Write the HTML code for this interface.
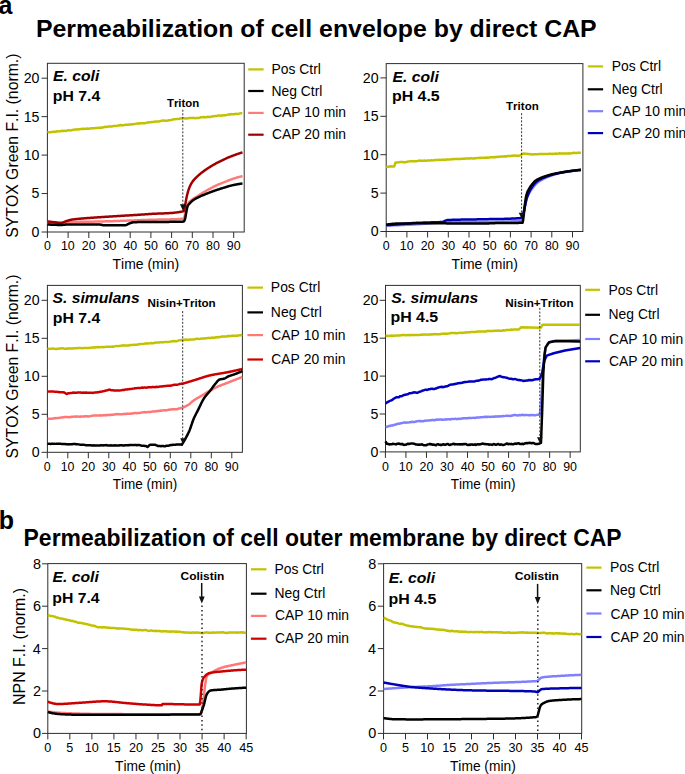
<!DOCTYPE html>
<html><head><meta charset="utf-8"><style>
html,body{margin:0;padding:0;background:#fff;width:685px;height:774px;overflow:hidden}
svg{display:block}
text{font-family:'Liberation Sans', sans-serif;font-kerning:none}
</style></head><body>
<svg width="685" height="774" viewBox="0 0 685 774" style="font-family:'Liberation Sans', sans-serif;font-kerning:none">
<rect width="685" height="774" fill="#fff"/>
<text transform="translate(-1.43,14.20) scale(1.0000,1)" font-size="25" font-weight="bold" font-style="normal" fill="#000">a</text>
<text transform="translate(35.94,36.90) scale(1.0362,1)" font-size="24" font-weight="bold" font-style="normal" fill="#000">Permeabilization of cell envelope by direct CAP</text>
<text transform="translate(-1.25,528.70) scale(1.0000,1)" font-size="25" font-weight="bold" font-style="normal" fill="#000">b</text>
<text transform="translate(23.56,545.60) scale(0.9980,1)" font-size="23.0" font-weight="bold" font-style="normal" fill="#000">Permeabilization of cell outer membrane by direct CAP</text>
<rect x="47.40" y="63.30" width="196.80" height="168.70" fill="none" stroke="#2e2e2e" stroke-width="1"/>
<line x1="41.60" y1="232.00" x2="47.40" y2="232.00" stroke="#2e2e2e" stroke-width="1.0" />
<text transform="translate(31.55,236.94) scale(1.0300,1)" font-size="13.8" font-weight="normal" font-style="normal" fill="#000">0</text>
<line x1="41.60" y1="193.55" x2="47.40" y2="193.55" stroke="#2e2e2e" stroke-width="1.0" />
<text transform="translate(31.59,198.49) scale(1.0300,1)" font-size="13.8" font-weight="normal" font-style="normal" fill="#000">5</text>
<line x1="41.60" y1="155.10" x2="47.40" y2="155.10" stroke="#2e2e2e" stroke-width="1.0" />
<text transform="translate(23.64,160.04) scale(1.0300,1)" font-size="13.8" font-weight="normal" font-style="normal" fill="#000">10</text>
<line x1="41.60" y1="116.65" x2="47.40" y2="116.65" stroke="#2e2e2e" stroke-width="1.0" />
<text transform="translate(23.69,121.59) scale(1.0300,1)" font-size="13.8" font-weight="normal" font-style="normal" fill="#000">15</text>
<line x1="41.60" y1="78.20" x2="47.40" y2="78.20" stroke="#2e2e2e" stroke-width="1.0" />
<text transform="translate(23.64,83.14) scale(1.0300,1)" font-size="13.8" font-weight="normal" font-style="normal" fill="#000">20</text>
<line x1="47.40" y1="232.00" x2="47.40" y2="238.00" stroke="#2e2e2e" stroke-width="1.0" />
<text transform="translate(43.95,250.40) scale(1.0000,1)" font-size="12.4" font-weight="normal" font-style="normal" fill="#000">0</text>
<line x1="68.10" y1="232.00" x2="68.10" y2="238.00" stroke="#2e2e2e" stroke-width="1.0" />
<text transform="translate(60.97,250.40) scale(1.0000,1)" font-size="12.4" font-weight="normal" font-style="normal" fill="#000">10</text>
<line x1="88.80" y1="232.00" x2="88.80" y2="238.00" stroke="#2e2e2e" stroke-width="1.0" />
<text transform="translate(81.83,250.40) scale(1.0000,1)" font-size="12.4" font-weight="normal" font-style="normal" fill="#000">20</text>
<line x1="109.50" y1="232.00" x2="109.50" y2="238.00" stroke="#2e2e2e" stroke-width="1.0" />
<text transform="translate(102.61,250.40) scale(1.0000,1)" font-size="12.4" font-weight="normal" font-style="normal" fill="#000">30</text>
<line x1="130.20" y1="232.00" x2="130.20" y2="238.00" stroke="#2e2e2e" stroke-width="1.0" />
<text transform="translate(123.40,250.40) scale(1.0000,1)" font-size="12.4" font-weight="normal" font-style="normal" fill="#000">40</text>
<line x1="150.90" y1="232.00" x2="150.90" y2="238.00" stroke="#2e2e2e" stroke-width="1.0" />
<text transform="translate(144.00,250.40) scale(1.0000,1)" font-size="12.4" font-weight="normal" font-style="normal" fill="#000">50</text>
<line x1="171.60" y1="232.00" x2="171.60" y2="238.00" stroke="#2e2e2e" stroke-width="1.0" />
<text transform="translate(164.63,250.40) scale(1.0000,1)" font-size="12.4" font-weight="normal" font-style="normal" fill="#000">60</text>
<line x1="192.30" y1="232.00" x2="192.30" y2="238.00" stroke="#2e2e2e" stroke-width="1.0" />
<text transform="translate(185.33,250.40) scale(1.0000,1)" font-size="12.4" font-weight="normal" font-style="normal" fill="#000">70</text>
<line x1="213.00" y1="232.00" x2="213.00" y2="238.00" stroke="#2e2e2e" stroke-width="1.0" />
<text transform="translate(206.08,250.40) scale(1.0000,1)" font-size="12.4" font-weight="normal" font-style="normal" fill="#000">80</text>
<line x1="233.70" y1="232.00" x2="233.70" y2="238.00" stroke="#2e2e2e" stroke-width="1.0" />
<text transform="translate(226.76,250.40) scale(1.0000,1)" font-size="12.4" font-weight="normal" font-style="normal" fill="#000">90</text>
<polyline points="47.40,132.40 48.40,132.12 49.40,132.28 50.40,132.29 51.40,132.01 52.40,131.92 53.40,131.81 54.40,131.81 55.40,131.83 56.40,131.47 57.40,131.18 58.40,131.37 59.40,131.25 60.40,131.30 61.40,130.92 62.40,130.87 63.40,130.94 64.40,130.70 65.40,130.88 66.40,130.93 67.40,130.48 68.40,130.18 69.40,130.21 70.40,130.40 71.40,130.19 72.40,129.95 73.40,129.87 74.40,129.59 75.40,129.48 76.40,129.48 77.40,129.48 78.40,129.31 79.40,129.16 80.40,129.04 81.40,129.04 82.40,128.93 83.40,128.68 84.40,128.91 85.40,128.87 86.40,128.85 87.40,128.57 88.40,128.77 89.40,128.79 90.40,128.39 91.40,128.22 92.40,128.28 93.40,128.27 94.40,128.34 95.40,128.08 96.40,128.10 97.40,127.99 98.40,127.71 99.40,127.64 100.40,127.71 101.40,127.70 102.40,127.48 103.40,127.36 104.41,126.96 105.41,126.78 106.42,126.90 107.43,126.74 108.43,126.48 109.44,126.47 110.45,126.50 111.46,126.46 112.46,126.25 113.47,126.11 114.48,126.01 115.48,126.05 116.49,125.90 117.50,125.70 118.50,125.59 119.51,125.25 120.52,125.01 121.52,125.15 122.53,125.34 123.54,125.21 124.54,124.99 125.55,124.70 126.56,124.66 127.57,124.82 128.57,124.78 129.58,124.59 130.59,124.60 131.59,124.24 132.60,124.13 133.61,124.24 134.61,124.07 135.62,123.87 136.63,123.61 137.63,123.55 138.64,123.68 139.65,123.24 140.66,123.32 141.66,123.34 142.67,123.35 143.68,123.23 144.68,123.16 145.69,122.92 146.70,122.76 147.70,122.55 148.71,122.20 149.72,122.36 150.72,122.25 151.73,121.97 152.74,121.90 153.74,121.81 154.75,121.65 155.76,121.51 156.77,121.47 157.77,121.45 158.78,121.39 159.79,121.24 160.79,120.88 161.80,120.73 162.82,120.56 163.84,120.61 164.86,120.73 165.88,120.72 166.90,120.67 167.92,120.60 168.94,120.23 169.96,120.25 170.98,120.13 172.00,119.72 173.02,119.39 174.04,119.14 175.06,119.32 176.08,119.12 177.10,118.89 178.12,118.95 179.14,118.81 180.16,118.53 181.18,118.37 182.20,118.40 183.24,118.28 184.29,118.24 185.33,118.43 186.37,118.40 187.41,118.30 188.46,118.30 189.50,118.06 190.54,118.08 191.59,118.10 192.63,117.98 193.67,117.85 194.71,118.16 195.76,118.13 196.80,117.95 197.81,117.95 198.82,118.02 199.83,117.61 200.84,117.32 201.86,117.17 202.87,117.32 203.88,117.08 204.89,117.17 205.90,117.16 206.91,117.05 207.92,116.77 208.93,116.94 209.94,116.91 210.96,116.71 211.97,116.39 212.98,116.37 213.99,116.19 215.00,116.12 216.01,115.91 217.02,115.90 218.03,115.56 219.04,115.43 220.06,115.64 221.07,115.68 222.08,115.37 223.09,115.42 224.10,115.13 225.11,115.23 226.12,115.14 227.13,114.88 228.14,114.60 229.16,114.27 230.17,114.46 231.18,114.10 232.19,114.24 233.20,114.35 234.21,114.17 235.22,113.82 236.23,113.92 237.24,113.98 238.26,113.84 239.27,113.62 240.28,113.37 241.29,113.16 242.30,113.10" fill="none" stroke="#c2c200" stroke-width="2.5" stroke-linejoin="round" stroke-linecap="butt"/>
<polyline points="47.40,222.70 47.91,222.73 48.41,222.76 48.92,222.79 49.43,222.81 49.93,222.83 50.44,222.84 50.95,222.86 51.45,222.87 51.96,222.88 52.47,222.89 52.97,222.89 53.48,222.90 53.99,222.90 54.49,222.90 55.00,222.90 55.50,222.90 56.00,222.88 56.50,222.86 57.00,222.84 57.50,222.81 58.00,222.77 58.50,222.73 59.00,222.69 59.50,222.64 60.00,222.59 60.50,222.54 61.00,222.50 61.50,222.45 62.00,222.40 62.50,222.36 63.00,222.32 63.50,222.28 64.00,222.25 64.50,222.22 65.00,222.20 65.50,222.18 66.00,222.17 66.50,222.15 67.00,222.13 67.50,222.12 68.00,222.10 68.50,222.09 69.00,222.08 69.50,222.06 70.00,222.05 70.50,222.04 71.00,222.02 71.50,222.01 72.00,222.00 72.50,221.99 73.00,221.98 73.50,221.97 74.00,221.96 74.50,221.95 75.00,221.93 75.50,221.93 76.00,221.92 76.50,221.91 77.00,221.90 77.50,221.89 78.00,221.88 78.50,221.87 79.00,221.86 79.50,221.85 80.00,221.85 80.50,221.84 81.00,221.83 81.50,221.82 82.00,221.81 82.50,221.81 83.00,221.80 83.50,221.79 84.00,221.78 84.50,221.78 85.00,221.77 85.50,221.76 86.00,221.75 86.50,221.75 87.00,221.74 87.50,221.73 88.00,221.73 88.50,221.72 89.00,221.71 89.50,221.70 90.00,221.69 90.50,221.69 91.00,221.68 91.50,221.67 92.00,221.66 92.50,221.65 93.00,221.65 93.50,221.64 94.00,221.63 94.50,221.62 95.00,221.61 95.50,221.60 96.00,221.59 96.50,221.58 97.00,221.57 97.50,221.56 98.00,221.55 98.50,221.54 99.00,221.52 99.50,221.51 100.00,221.50 100.50,221.49 101.00,221.47 101.50,221.46 102.00,221.45 102.50,221.44 103.00,221.42 103.50,221.41 104.00,221.40 104.50,221.38 105.00,221.37 105.50,221.35 106.00,221.34 106.50,221.32 107.00,221.31 107.50,221.30 108.00,221.28 108.50,221.27 109.00,221.25 109.50,221.24 110.00,221.22 110.50,221.20 111.00,221.19 111.50,221.17 112.00,221.16 112.50,221.14 113.00,221.13 113.50,221.11 114.00,221.09 114.50,221.08 115.00,221.06 115.50,221.04 116.00,221.03 116.50,221.01 117.00,220.99 117.50,220.98 118.00,220.96 118.50,220.94 119.00,220.93 119.50,220.91 120.00,220.89 120.50,220.87 121.00,220.86 121.50,220.84 122.00,220.82 122.50,220.80 123.00,220.78 123.50,220.77 124.00,220.75 124.50,220.73 125.00,220.71 125.50,220.69 126.00,220.68 126.50,220.66 127.00,220.64 127.50,220.62 128.00,220.60 128.50,220.59 129.00,220.57 129.50,220.55 130.00,220.53 130.50,220.51 131.00,220.49 131.50,220.48 132.00,220.46 132.50,220.44 133.00,220.42 133.50,220.40 134.00,220.38 134.50,220.36 135.00,220.35 135.50,220.33 136.00,220.31 136.50,220.29 137.00,220.27 137.50,220.25 138.00,220.23 138.50,220.22 139.00,220.20 139.50,220.18 140.00,220.16 140.50,220.14 141.00,220.12 141.50,220.11 142.00,220.09 142.50,220.07 143.00,220.05 143.50,220.03 144.00,220.01 144.50,220.00 145.00,219.98 145.50,219.96 146.00,219.94 146.50,219.92 147.00,219.91 147.50,219.89 148.00,219.87 148.50,219.85 149.00,219.84 149.50,219.82 150.00,219.80 150.50,219.78 151.00,219.77 151.50,219.75 152.01,219.74 152.51,219.72 153.01,219.71 153.51,219.70 154.01,219.69 154.51,219.67 155.01,219.66 155.52,219.65 156.02,219.64 156.52,219.63 157.02,219.63 157.52,219.62 158.02,219.61 158.53,219.60 159.03,219.59 159.53,219.58 160.03,219.58 160.53,219.57 161.03,219.56 161.53,219.55 162.04,219.55 162.54,219.54 163.04,219.53 163.54,219.52 164.04,219.52 164.54,219.51 165.04,219.50 165.55,219.49 166.05,219.48 166.55,219.47 167.05,219.46 167.55,219.45 168.05,219.44 168.56,219.43 169.06,219.41 169.56,219.40 170.06,219.39 170.56,219.37 171.06,219.36 171.56,219.34 172.07,219.32 172.57,219.31 173.07,219.29 173.57,219.27 174.07,219.25 174.57,219.22 175.07,219.20 175.58,219.18 176.08,219.15 176.58,219.13 177.08,219.10 177.58,219.07 178.08,219.04 178.59,219.01 179.09,218.97 179.59,218.94 180.09,218.90 180.59,218.86 181.09,218.82 181.59,218.78 182.10,218.74 182.60,218.69 183.10,218.65 183.60,218.60 184.14,217.77 184.68,215.77 185.22,213.19 185.76,210.60 186.30,208.60 186.84,207.11 187.38,205.70 187.92,204.42 188.46,203.34 189.00,202.50 189.50,201.89 190.00,201.36 190.50,200.89 191.00,200.47 191.50,200.08 192.00,199.72 192.50,199.36 193.00,199.00 193.51,198.64 194.03,198.29 194.54,197.96 195.05,197.65 195.56,197.34 196.07,197.03 196.59,196.72 197.10,196.40 197.62,196.07 198.15,195.73 198.67,195.40 199.19,195.06 199.72,194.72 200.24,194.38 200.76,194.05 201.28,193.71 201.81,193.38 202.33,193.06 202.85,192.73 203.38,192.41 203.90,192.10 204.42,191.79 204.95,191.49 205.47,191.18 205.99,190.88 206.52,190.59 207.04,190.29 207.56,190.00 208.08,189.71 208.61,189.42 209.13,189.14 209.65,188.86 210.18,188.58 210.70,188.30 211.22,188.02 211.75,187.75 212.27,187.47 212.79,187.20 213.32,186.93 213.84,186.66 214.36,186.40 214.88,186.14 215.41,185.88 215.93,185.63 216.45,185.38 216.98,185.14 217.50,184.90 218.02,184.67 218.53,184.45 219.05,184.24 219.56,184.03 220.08,183.82 220.59,183.61 221.11,183.41 221.62,183.21 222.14,183.01 222.65,182.81 223.17,182.61 223.68,182.40 224.20,182.20 224.72,181.99 225.25,181.78 225.77,181.56 226.29,181.34 226.82,181.13 227.34,180.91 227.86,180.69 228.38,180.48 228.91,180.28 229.43,180.07 229.95,179.87 230.48,179.68 231.00,179.50 231.50,179.33 232.00,179.16 232.50,178.99 233.00,178.83 233.50,178.66 234.00,178.50 234.50,178.34 235.00,178.18 235.50,178.02 236.00,177.87 236.50,177.72 237.00,177.57 237.50,177.42 238.00,177.27 238.50,177.13 239.00,176.99 239.50,176.85 240.00,176.72 240.50,176.59 241.00,176.46 241.50,176.34 242.00,176.22 242.50,176.10" fill="none" stroke="#ff7b7b" stroke-width="2.5" stroke-linejoin="round" stroke-linecap="butt"/>
<polyline points="47.40,221.40 47.91,221.46 48.41,221.52 48.92,221.58 49.43,221.65 49.93,221.71 50.44,221.77 50.95,221.83 51.45,221.89 51.96,221.95 52.47,222.01 52.97,222.07 53.48,222.12 53.99,222.18 54.49,222.24 55.00,222.30 55.52,222.36 56.05,222.44 56.58,222.51 57.10,222.59 57.62,222.67 58.15,222.74 58.67,222.81 59.20,222.87 59.72,222.92 60.25,222.96 60.77,222.99 61.30,223.00 61.82,222.95 62.34,222.83 62.87,222.64 63.39,222.41 63.91,222.15 64.43,221.89 64.96,221.63 65.48,221.39 66.00,221.20 66.50,221.04 67.00,220.88 67.50,220.73 68.00,220.58 68.50,220.43 69.00,220.28 69.50,220.15 70.00,220.02 70.50,219.90 71.00,219.79 71.50,219.69 72.00,219.60 72.50,219.52 73.00,219.45 73.50,219.38 74.00,219.31 74.50,219.25 75.00,219.19 75.50,219.14 76.00,219.08 76.50,219.03 77.00,218.98 77.50,218.93 78.00,218.88 78.50,218.84 79.00,218.79 79.50,218.75 80.00,218.70 80.50,218.65 81.00,218.61 81.50,218.56 82.00,218.52 82.50,218.48 83.00,218.43 83.50,218.39 84.00,218.35 84.50,218.31 85.00,218.27 85.50,218.23 86.00,218.19 86.50,218.15 87.00,218.11 87.50,218.08 88.00,218.04 88.50,218.00 89.00,217.97 89.50,217.93 90.00,217.89 90.50,217.86 91.00,217.82 91.50,217.79 92.00,217.75 92.50,217.72 93.00,217.68 93.50,217.65 94.00,217.61 94.50,217.58 95.00,217.54 95.50,217.51 96.00,217.48 96.50,217.44 97.00,217.41 97.50,217.37 98.00,217.34 98.50,217.30 99.00,217.27 99.50,217.23 100.00,217.20 100.50,217.17 101.00,217.13 101.50,217.10 102.00,217.06 102.50,217.03 103.00,216.99 103.50,216.96 104.00,216.93 104.50,216.89 105.00,216.86 105.50,216.83 106.00,216.79 106.50,216.76 107.00,216.73 107.50,216.70 108.00,216.66 108.50,216.63 109.00,216.60 109.50,216.57 110.00,216.54 110.50,216.51 111.00,216.47 111.50,216.44 112.00,216.41 112.50,216.38 113.00,216.35 113.50,216.32 114.00,216.29 114.50,216.26 115.00,216.23 115.50,216.19 116.00,216.16 116.50,216.13 117.00,216.10 117.50,216.07 118.00,216.04 118.50,216.01 119.00,215.98 119.50,215.95 120.00,215.92 120.50,215.89 121.00,215.86 121.50,215.83 122.00,215.80 122.50,215.77 123.00,215.74 123.50,215.71 124.00,215.68 124.50,215.65 125.00,215.62 125.50,215.59 126.00,215.56 126.50,215.53 127.00,215.50 127.50,215.47 128.00,215.44 128.50,215.41 129.00,215.38 129.50,215.35 130.00,215.32 130.50,215.29 131.00,215.26 131.50,215.23 132.00,215.19 132.50,215.16 133.00,215.13 133.50,215.10 134.00,215.07 134.50,215.04 135.00,215.01 135.50,214.98 136.00,214.94 136.50,214.91 137.00,214.88 137.50,214.85 138.00,214.82 138.50,214.79 139.00,214.75 139.50,214.72 140.00,214.69 140.50,214.66 141.00,214.62 141.50,214.59 142.00,214.56 142.50,214.52 143.00,214.49 143.50,214.46 144.00,214.42 144.50,214.39 145.00,214.35 145.50,214.32 146.00,214.28 146.50,214.25 147.00,214.21 147.50,214.18 148.00,214.14 148.50,214.11 149.00,214.07 149.50,214.04 150.00,214.00 150.50,213.96 151.00,213.93 151.50,213.90 152.01,213.87 152.51,213.84 153.01,213.81 153.51,213.78 154.01,213.76 154.51,213.74 155.01,213.71 155.52,213.69 156.02,213.67 156.52,213.65 157.02,213.63 157.52,213.61 158.02,213.59 158.53,213.58 159.03,213.56 159.53,213.54 160.03,213.52 160.53,213.51 161.03,213.49 161.53,213.47 162.04,213.46 162.54,213.44 163.04,213.42 163.54,213.40 164.04,213.38 164.54,213.36 165.04,213.34 165.55,213.32 166.05,213.30 166.55,213.27 167.05,213.25 167.55,213.22 168.05,213.20 168.56,213.17 169.06,213.14 169.56,213.11 170.06,213.07 170.56,213.04 171.06,213.00 171.56,212.96 172.07,212.92 172.57,212.88 173.07,212.83 173.57,212.78 174.07,212.73 174.57,212.68 175.07,212.63 175.58,212.57 176.08,212.51 176.58,212.44 177.08,212.38 177.58,212.31 178.08,212.24 178.59,212.16 179.09,212.08 179.59,212.00 180.09,211.91 180.59,211.82 181.09,211.73 181.59,211.63 182.10,211.53 182.60,211.42 183.10,211.31 183.60,211.20 184.30,209.34 185.00,206.00 185.50,203.34 186.00,200.50 186.50,197.88 187.00,195.50 187.50,193.46 188.00,191.62 188.50,190.00 189.10,188.31 189.70,186.81 190.30,185.50 190.84,184.45 191.38,183.47 191.92,182.57 192.46,181.75 193.00,181.00 193.51,180.34 194.03,179.73 194.54,179.15 195.05,178.60 195.56,178.08 196.07,177.58 196.59,177.08 197.10,176.60 197.62,176.11 198.15,175.64 198.67,175.17 199.19,174.72 199.72,174.27 200.24,173.84 200.76,173.41 201.28,172.99 201.81,172.58 202.33,172.18 202.85,171.78 203.38,171.39 203.90,171.00 204.42,170.62 204.95,170.25 205.47,169.88 205.99,169.52 206.52,169.17 207.04,168.82 207.56,168.48 208.08,168.14 208.61,167.81 209.13,167.47 209.65,167.15 210.18,166.82 210.70,166.50 211.22,166.18 211.75,165.86 212.27,165.55 212.79,165.24 213.32,164.93 213.84,164.63 214.36,164.33 214.88,164.03 215.41,163.74 215.93,163.45 216.45,163.16 216.98,162.88 217.50,162.60 218.02,162.33 218.53,162.06 219.05,161.79 219.56,161.53 220.08,161.27 220.59,161.02 221.11,160.76 221.62,160.51 222.14,160.26 222.65,160.02 223.17,159.78 223.68,159.54 224.20,159.30 224.72,159.06 225.25,158.83 225.77,158.59 226.29,158.36 226.82,158.13 227.34,157.90 227.86,157.68 228.38,157.46 228.91,157.24 229.43,157.02 229.95,156.81 230.48,156.60 231.00,156.40 231.50,156.21 232.00,156.02 232.50,155.83 233.00,155.64 233.50,155.45 234.00,155.26 234.50,155.08 235.00,154.90 235.50,154.72 236.00,154.54 236.50,154.36 237.00,154.19 237.50,154.01 238.00,153.84 238.50,153.67 239.00,153.51 239.50,153.34 240.00,153.18 240.50,153.02 241.00,152.86 241.50,152.70 242.00,152.55 242.50,152.40" fill="none" stroke="#a00000" stroke-width="2.5" stroke-linejoin="round" stroke-linecap="butt"/>
<polyline points="47.40,224.50 47.91,224.52 48.41,224.54 48.92,224.56 49.43,224.59 49.93,224.61 50.44,224.63 50.95,224.65 51.45,224.67 51.96,224.69 52.47,224.71 52.97,224.73 53.48,224.74 53.99,224.76 54.49,224.78 55.00,224.80 55.50,224.82 56.00,224.84 56.50,224.86 57.00,224.88 57.50,224.91 58.00,224.93 58.50,224.95 59.00,224.96 59.50,224.98 60.00,224.99 60.50,225.00 61.00,225.00 61.50,224.99 62.00,224.97 62.50,224.93 63.00,224.88 63.50,224.83 64.00,224.76 64.50,224.70 65.00,224.64 65.50,224.57 66.00,224.52 66.50,224.47 67.00,224.43 67.50,224.41 68.00,224.40 68.50,224.40 69.00,224.40 69.50,224.40 70.00,224.40 70.50,224.40 71.00,224.40 71.50,224.40 72.00,224.40 72.50,224.40 73.00,224.40 73.50,224.40 74.00,224.40 74.50,224.40 75.00,224.41 75.50,224.41 76.00,224.41 76.50,224.41 77.00,224.41 77.50,224.41 78.00,224.41 78.50,224.41 79.00,224.42 79.50,224.42 80.00,224.42 80.50,224.42 81.00,224.42 81.50,224.42 82.00,224.43 82.50,224.43 83.00,224.43 83.50,224.43 84.00,224.44 84.50,224.44 85.00,224.44 85.50,224.45 86.00,224.45 86.50,224.45 87.00,224.45 87.50,224.46 88.00,224.46 88.50,224.47 89.00,224.47 89.50,224.47 90.00,224.48 90.50,224.48 91.00,224.49 91.50,224.49 92.00,224.50 92.50,224.50 93.00,224.51 93.50,224.51 94.00,224.52 94.50,224.52 95.00,224.53 95.50,224.54 96.00,224.54 96.50,224.55 97.00,224.56 97.50,224.56 98.00,224.57 98.50,224.58 99.00,224.58 99.50,224.59 100.00,224.60 100.50,224.64 101.00,224.72 101.50,224.83 102.00,224.96 102.50,225.08 103.00,225.19 103.50,225.27 104.00,225.30 104.50,225.30 105.00,225.30 105.50,225.30 106.00,225.30 106.50,225.30 107.00,225.30 107.50,225.30 108.00,225.30 108.50,225.30 109.00,225.30 109.50,225.30 110.00,225.30 110.50,225.30 111.00,225.30 111.50,225.30 112.00,225.30 112.50,225.30 113.00,225.30 113.50,225.30 114.00,225.30 114.50,225.30 115.00,225.30 115.50,225.30 116.00,225.30 116.50,225.30 117.00,225.30 117.50,225.30 118.00,225.30 118.50,225.30 119.00,225.30 119.50,225.30 120.00,225.30 120.50,225.30 121.00,225.30 121.50,225.30 122.00,225.30 122.50,225.30 123.00,225.30 123.50,225.30 124.00,225.30 124.50,225.30 125.00,225.30 125.50,225.26 126.00,225.13 126.50,224.94 127.00,224.71 127.50,224.44 128.00,224.16 128.50,223.88 129.00,223.62 129.50,223.38 130.00,223.20 130.50,223.04 131.00,222.87 131.50,222.71 132.00,222.56 132.50,222.42 133.00,222.31 133.50,222.24 134.00,222.20 134.50,222.19 135.00,222.17 135.50,222.16 136.00,222.15 136.50,222.14 137.00,222.13 137.50,222.12 138.00,222.11 138.50,222.10 139.00,222.10 139.50,222.09 140.00,222.09 140.50,222.08 141.00,222.08 141.50,222.07 142.00,222.07 142.50,222.06 143.00,222.06 143.50,222.05 144.00,222.05 144.50,222.05 145.00,222.04 145.50,222.04 146.00,222.04 146.50,222.03 147.00,222.03 147.50,222.03 148.00,222.02 148.50,222.02 149.00,222.01 149.50,222.01 150.00,222.00 150.50,221.99 151.00,221.99 151.50,221.98 152.01,221.98 152.51,221.97 153.01,221.97 153.51,221.96 154.01,221.96 154.51,221.96 155.01,221.95 155.52,221.95 156.02,221.95 156.52,221.94 157.02,221.94 157.52,221.94 158.02,221.94 158.53,221.93 159.03,221.93 159.53,221.93 160.03,221.93 160.53,221.92 161.03,221.92 161.53,221.92 162.04,221.92 162.54,221.91 163.04,221.91 163.54,221.91 164.04,221.91 164.54,221.90 165.04,221.90 165.55,221.90 166.05,221.90 166.55,221.89 167.05,221.89 167.55,221.89 168.05,221.88 168.56,221.88 169.06,221.88 169.56,221.87 170.06,221.87 170.56,221.86 171.06,221.86 171.56,221.85 172.07,221.85 172.57,221.84 173.07,221.83 173.57,221.83 174.07,221.82 174.57,221.81 175.07,221.81 175.58,221.80 176.08,221.79 176.58,221.78 177.08,221.77 177.58,221.76 178.08,221.75 178.59,221.74 179.09,221.73 179.59,221.72 180.09,221.70 180.59,221.69 181.09,221.68 181.59,221.66 182.10,221.65 182.60,221.63 183.10,221.62 183.60,221.60 184.25,220.94 184.90,219.50 185.43,217.28 185.97,214.04 186.50,211.00 187.05,208.24 187.60,206.20 188.12,205.23 188.65,204.53 189.17,203.95 189.70,203.40 190.25,202.80 190.80,202.23 191.35,201.69 191.90,201.19 192.45,200.72 193.00,200.30 193.51,199.94 194.03,199.61 194.54,199.29 195.05,198.99 195.56,198.71 196.07,198.43 196.59,198.17 197.10,197.90 197.62,197.63 198.15,197.37 198.67,197.12 199.19,196.87 199.72,196.63 200.24,196.39 200.76,196.15 201.28,195.92 201.81,195.69 202.33,195.47 202.85,195.24 203.38,195.02 203.90,194.80 204.42,194.58 204.95,194.36 205.47,194.14 205.99,193.93 206.52,193.72 207.04,193.51 207.56,193.30 208.08,193.10 208.61,192.90 209.13,192.69 209.65,192.49 210.18,192.30 210.70,192.10 211.22,191.91 211.75,191.71 212.27,191.52 212.79,191.33 213.32,191.14 213.84,190.96 214.36,190.77 214.88,190.59 215.41,190.41 215.93,190.23 216.45,190.05 216.98,189.87 217.50,189.70 218.02,189.53 218.53,189.36 219.05,189.20 219.56,189.03 220.08,188.87 220.59,188.71 221.11,188.55 221.62,188.39 222.14,188.23 222.65,188.07 223.17,187.91 223.68,187.76 224.20,187.60 224.72,187.44 225.25,187.28 225.77,187.11 226.29,186.95 226.82,186.78 227.34,186.62 227.86,186.46 228.38,186.30 228.91,186.15 229.43,186.00 229.95,185.86 230.48,185.72 231.00,185.60 231.50,185.49 232.00,185.37 232.50,185.26 233.00,185.15 233.50,185.04 234.00,184.93 234.50,184.83 235.00,184.73 235.50,184.62 236.00,184.53 236.50,184.43 237.00,184.33 237.50,184.24 238.00,184.15 238.50,184.07 239.00,183.99 239.50,183.91 240.00,183.83 240.50,183.76 241.00,183.69 241.50,183.62 242.00,183.56 242.50,183.50" fill="none" stroke="#000000" stroke-width="2.5" stroke-linejoin="round" stroke-linecap="butt"/>
<text transform="translate(17.90,237.82) rotate(-90) scale(0.9882,1)" font-size="16" font-weight="normal" fill="#000">SYTOX Green F.I. (norm.)</text>
<text transform="translate(112.59,269.30) scale(0.9954,1)" font-size="14" font-weight="normal" font-style="normal" fill="#000">Time (min)</text>
<text transform="translate(52.92,81.00) scale(1.0165,1)" font-size="15.5" font-weight="bold" font-style="italic" fill="#000">E. coli</text>
<text transform="translate(52.86,100.90) scale(1.0196,1)" font-size="15.5" font-weight="bold" font-style="normal" fill="#000">pH 7.4</text>
<text transform="translate(166.97,106.60) scale(0.9927,1)" font-size="11.5" font-weight="bold" font-style="normal" fill="#000">Triton</text>
<line x1="182.80" y1="109.70" x2="182.80" y2="204.50" stroke="#333" stroke-width="1.0" stroke-dasharray="2,1.6"/>
<path d="M180.00,204.20 L186.00,204.20 L183.00,211.00 Z" fill="#111"/>
<line x1="248.20" y1="69.40" x2="263.60" y2="69.40" stroke="#c2c200" stroke-width="2.2" />
<line x1="248.20" y1="91.00" x2="263.60" y2="91.00" stroke="#000000" stroke-width="2.2" />
<line x1="248.20" y1="112.90" x2="263.60" y2="112.90" stroke="#ff7b7b" stroke-width="2.2" />
<line x1="248.20" y1="134.70" x2="263.60" y2="134.70" stroke="#a00000" stroke-width="2.2" />
<text transform="translate(271.46,73.80) scale(1.0081,1)" font-size="13.8" font-weight="normal" font-style="normal" fill="#000">Pos Ctrl</text>
<text transform="translate(271.46,96.00) scale(1.0081,1)" font-size="13.8" font-weight="normal" font-style="normal" fill="#000">Neg Ctrl</text>
<text transform="translate(271.89,117.20) scale(1.0081,1)" font-size="13.8" font-weight="normal" font-style="normal" fill="#000">CAP 10 min</text>
<text transform="translate(271.89,139.00) scale(1.0081,1)" font-size="13.8" font-weight="normal" font-style="normal" fill="#000">CAP 20 min</text>
<rect x="386.20" y="63.60" width="196.70" height="167.90" fill="none" stroke="#2e2e2e" stroke-width="1"/>
<line x1="380.40" y1="231.50" x2="386.20" y2="231.50" stroke="#2e2e2e" stroke-width="1.0" />
<text transform="translate(370.75,236.44) scale(1.0300,1)" font-size="13.8" font-weight="normal" font-style="normal" fill="#000">0</text>
<line x1="380.40" y1="193.10" x2="386.20" y2="193.10" stroke="#2e2e2e" stroke-width="1.0" />
<text transform="translate(370.79,198.04) scale(1.0300,1)" font-size="13.8" font-weight="normal" font-style="normal" fill="#000">5</text>
<line x1="380.40" y1="154.70" x2="386.20" y2="154.70" stroke="#2e2e2e" stroke-width="1.0" />
<text transform="translate(362.84,159.64) scale(1.0300,1)" font-size="13.8" font-weight="normal" font-style="normal" fill="#000">10</text>
<line x1="380.40" y1="116.30" x2="386.20" y2="116.30" stroke="#2e2e2e" stroke-width="1.0" />
<text transform="translate(362.89,121.24) scale(1.0300,1)" font-size="13.8" font-weight="normal" font-style="normal" fill="#000">15</text>
<line x1="380.40" y1="77.90" x2="386.20" y2="77.90" stroke="#2e2e2e" stroke-width="1.0" />
<text transform="translate(362.84,82.84) scale(1.0300,1)" font-size="13.8" font-weight="normal" font-style="normal" fill="#000">20</text>
<line x1="386.20" y1="231.50" x2="386.20" y2="237.50" stroke="#2e2e2e" stroke-width="1.0" />
<text transform="translate(382.75,250.40) scale(1.0000,1)" font-size="12.4" font-weight="normal" font-style="normal" fill="#000">0</text>
<line x1="406.90" y1="231.50" x2="406.90" y2="237.50" stroke="#2e2e2e" stroke-width="1.0" />
<text transform="translate(399.77,250.40) scale(1.0000,1)" font-size="12.4" font-weight="normal" font-style="normal" fill="#000">10</text>
<line x1="427.60" y1="231.50" x2="427.60" y2="237.50" stroke="#2e2e2e" stroke-width="1.0" />
<text transform="translate(420.63,250.40) scale(1.0000,1)" font-size="12.4" font-weight="normal" font-style="normal" fill="#000">20</text>
<line x1="448.30" y1="231.50" x2="448.30" y2="237.50" stroke="#2e2e2e" stroke-width="1.0" />
<text transform="translate(441.41,250.40) scale(1.0000,1)" font-size="12.4" font-weight="normal" font-style="normal" fill="#000">30</text>
<line x1="469.00" y1="231.50" x2="469.00" y2="237.50" stroke="#2e2e2e" stroke-width="1.0" />
<text transform="translate(462.20,250.40) scale(1.0000,1)" font-size="12.4" font-weight="normal" font-style="normal" fill="#000">40</text>
<line x1="489.70" y1="231.50" x2="489.70" y2="237.50" stroke="#2e2e2e" stroke-width="1.0" />
<text transform="translate(482.80,250.40) scale(1.0000,1)" font-size="12.4" font-weight="normal" font-style="normal" fill="#000">50</text>
<line x1="510.40" y1="231.50" x2="510.40" y2="237.50" stroke="#2e2e2e" stroke-width="1.0" />
<text transform="translate(503.43,250.40) scale(1.0000,1)" font-size="12.4" font-weight="normal" font-style="normal" fill="#000">60</text>
<line x1="531.10" y1="231.50" x2="531.10" y2="237.50" stroke="#2e2e2e" stroke-width="1.0" />
<text transform="translate(524.13,250.40) scale(1.0000,1)" font-size="12.4" font-weight="normal" font-style="normal" fill="#000">70</text>
<line x1="551.80" y1="231.50" x2="551.80" y2="237.50" stroke="#2e2e2e" stroke-width="1.0" />
<text transform="translate(544.88,250.40) scale(1.0000,1)" font-size="12.4" font-weight="normal" font-style="normal" fill="#000">80</text>
<line x1="572.50" y1="231.50" x2="572.50" y2="237.50" stroke="#2e2e2e" stroke-width="1.0" />
<text transform="translate(565.56,250.40) scale(1.0000,1)" font-size="12.4" font-weight="normal" font-style="normal" fill="#000">90</text>
<polyline points="386.20,166.70 387.33,166.83 388.46,166.87 389.59,166.52 390.71,166.30 391.84,166.45 392.97,166.47 394.10,166.44 395.60,162.51 396.65,162.47 397.71,162.42 398.76,162.36 399.82,162.12 400.87,162.05 401.93,161.97 402.98,162.02 404.04,162.14 405.09,162.16 406.15,161.98 407.20,161.80 408.21,161.60 409.22,161.36 410.23,161.19 411.23,161.24 412.24,161.18 413.25,161.14 414.26,161.30 415.27,161.22 416.28,161.16 417.29,160.97 418.30,160.75 419.30,160.71 420.31,160.58 421.32,160.63 422.33,160.83 423.34,160.79 424.35,160.54 425.36,160.65 426.37,160.66 427.37,160.61 428.38,160.62 429.39,160.54 430.40,160.48 431.41,160.26 432.42,160.36 433.43,160.40 434.43,160.08 435.44,160.10 436.45,160.08 437.46,159.95 438.47,159.88 439.48,159.80 440.49,159.91 441.50,159.79 442.50,159.83 443.51,159.64 444.52,159.72 445.53,159.76 446.54,159.58 447.55,159.50 448.56,159.58 449.57,159.52 450.57,159.38 451.58,159.16 452.59,159.06 453.60,159.13 454.61,158.94 455.62,159.10 456.63,158.93 457.64,159.06 458.66,158.89 459.67,159.02 460.68,158.98 461.69,158.86 462.70,158.78 463.71,158.76 464.72,158.71 465.73,158.55 466.74,158.40 467.76,158.41 468.77,158.56 469.78,158.52 470.79,158.25 471.80,158.37 472.81,158.39 473.82,158.45 474.83,158.19 475.84,158.23 476.86,157.97 477.87,158.03 478.88,157.90 479.89,157.78 480.90,157.95 481.91,157.73 482.92,157.74 483.93,157.87 484.94,157.68 485.96,157.54 486.97,157.70 487.98,157.60 488.99,157.64 490.00,157.37 491.00,157.30 492.01,157.15 493.01,157.23 494.01,157.02 495.02,157.21 496.02,156.93 497.02,157.01 498.03,156.75 499.03,156.66 500.03,156.80 501.04,156.59 502.04,156.45 503.04,156.54 504.05,156.44 505.05,156.22 506.05,156.44 507.06,156.21 508.06,155.99 509.06,155.96 510.07,156.02 511.07,156.08 512.07,155.83 513.08,155.75 514.08,155.55 515.08,155.57 516.09,155.68 517.09,155.70 518.09,155.76 519.10,155.70 520.10,155.40 523.40,153.50 533.00,154.40 533.00,154.40 534.02,154.26 535.04,154.29 536.06,154.22 537.08,154.26 538.10,154.28 539.11,154.05 540.13,153.88 541.15,154.09 542.17,153.98 543.19,153.88 544.21,154.12 545.23,154.04 546.25,154.12 547.27,154.01 548.29,154.00 549.31,153.78 550.33,153.83 551.34,153.94 552.36,153.85 553.38,153.88 554.40,153.85 555.42,153.57 556.44,153.67 557.46,153.65 558.48,153.51 559.50,153.31 560.52,153.50 561.54,153.45 562.56,153.50 563.57,153.58 564.59,153.55 565.61,153.60 566.63,153.41 567.65,153.44 568.67,153.31 569.69,153.41 570.71,153.43 571.73,153.12 572.75,152.94 573.77,152.84 574.79,153.07 575.80,152.99 576.82,153.00 577.84,152.86 578.86,152.84 579.88,152.77 580.90,152.80" fill="none" stroke="#c2c200" stroke-width="2.5" stroke-linejoin="round" stroke-linecap="butt"/>
<polyline points="386.20,225.60 386.71,225.59 387.21,225.57 387.72,225.56 388.22,225.54 388.73,225.52 389.23,225.51 389.74,225.49 390.24,225.48 390.75,225.46 391.25,225.44 391.76,225.43 392.26,225.41 392.77,225.39 393.27,225.37 393.78,225.35 394.28,225.34 394.79,225.32 395.29,225.30 395.80,225.28 396.31,225.26 396.81,225.24 397.32,225.22 397.82,225.20 398.33,225.18 398.83,225.16 399.34,225.14 399.84,225.12 400.35,225.09 400.85,225.07 401.36,225.05 401.86,225.03 402.37,225.01 402.87,224.99 403.38,224.96 403.88,224.94 404.39,224.92 404.89,224.89 405.40,224.87 405.91,224.85 406.41,224.82 406.92,224.80 407.42,224.78 407.93,224.75 408.43,224.73 408.94,224.70 409.44,224.68 409.95,224.65 410.45,224.63 410.96,224.60 411.46,224.58 411.97,224.55 412.47,224.53 412.98,224.50 413.48,224.48 413.99,224.45 414.49,224.43 415.00,224.40 415.50,224.37 416.00,224.35 416.50,224.32 417.00,224.29 417.50,224.26 418.00,224.23 418.50,224.19 419.00,224.16 419.50,224.13 420.00,224.09 420.50,224.06 421.00,224.02 421.50,223.98 422.00,223.94 422.50,223.91 423.00,223.87 423.50,223.83 424.00,223.79 424.50,223.75 425.00,223.71 425.50,223.67 426.00,223.63 426.50,223.59 427.00,223.55 427.50,223.51 428.00,223.47 428.50,223.43 429.00,223.39 429.50,223.35 430.00,223.31 430.50,223.27 431.00,223.23 431.50,223.19 432.00,223.15 432.50,223.12 433.00,223.08 433.50,223.04 434.00,223.00 434.50,222.97 435.00,222.93 435.50,222.90 436.00,222.86 436.50,222.83 437.00,222.80 437.50,222.77 438.00,222.74 438.50,222.71 439.00,222.68 439.50,222.65 440.00,222.63 440.50,222.60 441.00,222.58 441.50,222.56 442.00,222.54 442.50,222.52 443.00,222.50 443.50,222.48 444.00,222.47 444.50,222.45 445.00,222.43 445.50,222.42 446.00,222.40 446.50,222.39 447.00,222.38 447.50,222.36 448.00,222.35 448.50,222.34 449.00,222.32 449.50,222.31 450.00,222.30 450.50,222.29 451.00,222.27 451.50,222.26 452.00,222.25 452.50,222.24 453.00,222.23 453.50,222.22 454.00,222.21 454.50,222.20 455.00,222.19 455.50,222.19 456.00,222.18 456.50,222.17 457.00,222.16 457.50,222.15 458.00,222.15 458.50,222.14 459.00,222.13 459.50,222.12 460.00,222.12 460.50,222.11 461.00,222.11 461.50,222.10 462.00,222.09 462.50,222.09 463.00,222.08 463.50,222.08 464.00,222.07 464.50,222.07 465.00,222.06 465.50,222.06 466.00,222.05 466.50,222.05 467.00,222.04 467.50,222.04 468.00,222.04 468.50,222.03 469.00,222.03 469.50,222.02 470.00,222.02 470.50,222.02 471.00,222.01 471.50,222.01 472.00,222.01 472.50,222.00 473.00,222.00 473.50,222.00 474.00,221.99 474.50,221.99 475.00,221.99 475.50,221.98 476.00,221.98 476.50,221.98 477.00,221.97 477.50,221.97 478.00,221.97 478.50,221.96 479.00,221.96 479.50,221.96 480.00,221.95 480.50,221.95 481.00,221.95 481.50,221.94 482.00,221.94 482.50,221.93 483.00,221.93 483.50,221.93 484.00,221.92 484.50,221.92 485.00,221.91 485.50,221.91 486.00,221.91 486.50,221.90 487.00,221.90 487.50,221.89 488.00,221.89 488.50,221.88 489.00,221.88 489.50,221.87 490.00,221.86 490.50,221.86 491.00,221.85 491.50,221.85 492.00,221.84 492.50,221.83 493.00,221.83 493.50,221.82 494.00,221.81 494.50,221.80 495.00,221.80 495.50,221.79 496.00,221.78 496.50,221.77 497.00,221.76 497.50,221.75 498.00,221.74 498.50,221.73 499.00,221.72 499.50,221.71 500.00,221.70 500.50,221.69 501.00,221.68 501.50,221.67 502.00,221.66 502.50,221.65 503.00,221.63 503.50,221.62 504.00,221.61 504.50,221.59 505.00,221.58 505.50,221.57 506.00,221.55 506.50,221.54 507.00,221.52 507.50,221.50 508.00,221.49 508.50,221.47 509.00,221.45 509.50,221.44 510.00,221.42 510.50,221.40 511.00,221.38 511.50,221.36 512.00,221.34 512.50,221.32 513.00,221.30 513.50,221.28 514.00,221.26 514.50,221.24 515.00,221.21 515.50,221.19 516.00,221.17 516.50,221.14 517.00,221.12 517.50,221.09 518.00,221.07 518.50,221.04 519.00,221.01 519.50,220.99 520.00,220.96 520.50,220.93 521.00,220.90 521.50,220.46 522.00,219.35 522.50,217.76 523.00,215.91 523.50,214.00 524.00,211.61 524.50,208.68 525.00,206.00 525.50,203.72 526.00,201.57 526.50,199.63 527.00,198.00 527.50,196.65 528.00,195.45 528.50,194.38 529.00,193.40 529.50,192.50 530.00,191.66 530.50,190.87 531.00,190.14 531.50,189.44 532.00,188.78 532.50,188.13 533.00,187.50 533.50,186.87 534.00,186.24 534.50,185.63 535.00,185.03 535.50,184.46 536.00,183.93 536.50,183.44 537.00,183.00 537.51,182.58 538.03,182.19 538.54,181.81 539.06,181.45 539.57,181.10 540.09,180.77 540.60,180.45 541.11,180.15 541.63,179.85 542.14,179.57 542.66,179.29 543.17,179.02 543.69,178.76 544.20,178.50 544.71,178.25 545.21,178.01 545.72,177.77 546.23,177.54 546.73,177.32 547.24,177.10 547.74,176.89 548.25,176.68 548.76,176.48 549.26,176.28 549.77,176.09 550.27,175.90 550.78,175.72 551.29,175.54 551.79,175.37 552.30,175.20 552.80,175.04 553.30,174.88 553.80,174.72 554.30,174.57 554.80,174.42 555.30,174.27 555.80,174.13 556.30,173.99 556.80,173.85 557.30,173.72 557.80,173.59 558.30,173.46 558.80,173.34 559.30,173.22 559.80,173.11 560.30,173.00 560.80,172.89 561.30,172.79 561.80,172.69 562.30,172.60 562.80,172.50 563.30,172.41 563.80,172.32 564.30,172.24 564.80,172.15 565.30,172.07 565.80,171.99 566.30,171.91 566.80,171.83 567.30,171.75 567.80,171.67 568.30,171.60 568.80,171.53 569.31,171.45 569.81,171.38 570.32,171.30 570.82,171.23 571.32,171.16 571.83,171.09 572.33,171.02 572.84,170.95 573.34,170.88 573.84,170.82 574.35,170.75 574.85,170.69 575.36,170.62 575.86,170.56 576.36,170.50 576.87,170.44 577.37,170.38 577.88,170.32 578.38,170.26 578.88,170.21 579.39,170.15 579.89,170.10 580.40,170.05 580.90,170.00" fill="none" stroke="#8080ff" stroke-width="2.5" stroke-linejoin="round" stroke-linecap="butt"/>
<polyline points="386.20,225.20 386.71,225.17 387.22,225.13 387.73,225.10 388.24,225.06 388.76,225.03 389.27,224.99 389.78,224.96 390.29,224.92 390.80,224.89 391.31,224.85 391.82,224.81 392.33,224.78 392.84,224.74 393.36,224.70 393.87,224.67 394.38,224.63 394.89,224.59 395.40,224.55 395.91,224.51 396.42,224.48 396.93,224.44 397.44,224.40 397.96,224.36 398.47,224.32 398.98,224.28 399.49,224.24 400.00,224.20 400.50,224.16 401.00,224.12 401.50,224.07 402.00,224.03 402.50,223.98 403.00,223.94 403.50,223.89 404.00,223.84 404.50,223.79 405.00,223.74 405.50,223.69 406.00,223.64 406.50,223.59 407.00,223.54 407.50,223.49 408.00,223.44 408.50,223.40 409.00,223.35 409.50,223.30 410.00,223.26 410.50,223.21 411.00,223.17 411.50,223.13 412.00,223.09 412.50,223.05 413.00,223.02 413.50,222.98 414.00,222.95 414.50,222.93 415.00,222.90 415.50,222.88 416.00,222.85 416.50,222.83 417.00,222.81 417.50,222.79 418.00,222.77 418.50,222.75 419.00,222.74 419.50,222.72 420.00,222.70 420.50,222.69 421.00,222.67 421.50,222.66 422.00,222.64 422.50,222.63 423.00,222.61 423.50,222.60 424.00,222.58 424.50,222.57 425.00,222.56 425.50,222.54 426.00,222.53 426.50,222.51 427.00,222.50 427.50,222.48 428.00,222.47 428.50,222.45 429.00,222.43 429.50,222.42 430.00,222.40 430.51,222.38 431.02,222.37 431.54,222.35 432.05,222.34 432.56,222.33 433.07,222.31 433.58,222.30 434.10,222.29 434.61,222.28 435.12,222.27 435.63,222.25 436.14,222.24 436.66,222.23 437.17,222.21 437.68,222.20 438.19,222.18 438.70,222.16 439.22,222.13 439.73,222.11 440.24,222.08 440.75,222.05 441.26,222.02 441.78,221.98 442.29,221.94 442.80,221.90 443.34,221.76 443.88,221.49 444.42,221.16 444.96,220.84 445.50,220.60 446.13,220.38 446.77,220.20 447.40,220.10 447.90,220.07 448.40,220.04 448.90,220.02 449.41,219.99 449.91,219.96 450.41,219.94 450.91,219.92 451.41,219.89 451.91,219.87 452.42,219.85 452.92,219.83 453.42,219.81 453.92,219.80 454.42,219.78 454.92,219.76 455.42,219.75 455.93,219.73 456.43,219.72 456.93,219.71 457.43,219.69 457.93,219.68 458.43,219.67 458.94,219.66 459.44,219.65 459.94,219.63 460.44,219.63 460.94,219.62 461.44,219.61 461.94,219.60 462.45,219.59 462.95,219.58 463.45,219.57 463.95,219.57 464.45,219.56 464.95,219.55 465.46,219.54 465.96,219.54 466.46,219.53 466.96,219.52 467.46,219.52 467.96,219.51 468.46,219.51 468.97,219.50 469.47,219.49 469.97,219.49 470.47,219.48 470.97,219.47 471.47,219.47 471.98,219.46 472.48,219.45 472.98,219.44 473.48,219.44 473.98,219.43 474.48,219.42 474.98,219.41 475.49,219.40 475.99,219.39 476.49,219.38 476.99,219.37 477.49,219.36 477.99,219.35 478.50,219.34 479.00,219.33 479.50,219.31 480.00,219.30 480.50,219.29 481.00,219.27 481.50,219.26 482.00,219.25 482.50,219.24 483.00,219.23 483.50,219.22 484.00,219.21 484.50,219.20 485.00,219.19 485.50,219.18 486.00,219.17 486.50,219.16 487.00,219.15 487.50,219.15 488.00,219.14 488.50,219.13 489.00,219.12 489.50,219.12 490.00,219.11 490.50,219.10 491.00,219.10 491.50,219.09 492.00,219.08 492.50,219.08 493.00,219.07 493.50,219.06 494.00,219.06 494.50,219.05 495.00,219.04 495.50,219.04 496.00,219.03 496.50,219.02 497.00,219.02 497.50,219.01 498.00,219.00 498.50,218.99 499.00,218.98 499.50,218.98 500.00,218.97 500.50,218.96 501.00,218.95 501.50,218.94 502.00,218.93 502.50,218.92 503.00,218.91 503.50,218.89 504.00,218.88 504.50,218.87 505.00,218.86 505.50,218.84 506.00,218.83 506.50,218.81 507.00,218.80 507.50,218.78 508.00,218.76 508.50,218.75 509.00,218.73 509.50,218.71 510.00,218.69 510.50,218.67 511.00,218.64 511.50,218.62 512.00,218.60 512.50,218.57 513.00,218.55 513.50,218.52 514.00,218.50 514.50,218.47 515.00,218.44 515.50,218.41 516.00,218.38 516.50,218.34 517.00,218.31 517.50,218.28 518.00,218.24 518.50,218.20 519.00,218.17 519.50,218.13 520.00,218.09 520.50,218.04 521.00,218.00 521.55,217.62 522.10,216.70 522.65,215.43 523.20,214.00 523.73,212.10 524.27,209.58 524.80,207.00 525.37,204.22 525.93,201.38 526.50,199.00 527.00,197.37 527.50,195.94 528.00,194.67 528.50,193.50 529.08,192.23 529.66,191.04 530.24,189.94 530.82,188.93 531.40,188.00 531.93,187.19 532.47,186.40 533.00,185.64 533.53,184.91 534.07,184.22 534.60,183.58 535.13,182.99 535.67,182.46 536.20,182.00 536.70,181.61 537.20,181.24 537.70,180.89 538.20,180.56 538.70,180.24 539.20,179.94 539.70,179.65 540.20,179.38 540.70,179.11 541.20,178.86 541.70,178.62 542.20,178.38 542.70,178.16 543.20,177.93 543.70,177.72 544.20,177.50 544.71,177.29 545.21,177.08 545.72,176.88 546.23,176.68 546.73,176.49 547.24,176.31 547.74,176.13 548.25,175.95 548.76,175.78 549.26,175.61 549.77,175.45 550.27,175.30 550.78,175.14 551.29,174.99 551.79,174.84 552.30,174.70 552.80,174.56 553.30,174.42 553.80,174.29 554.30,174.16 554.80,174.03 555.30,173.91 555.80,173.79 556.30,173.67 556.80,173.55 557.30,173.44 557.80,173.33 558.30,173.22 558.80,173.11 559.30,173.01 559.80,172.90 560.30,172.80 560.80,172.70 561.30,172.60 561.80,172.50 562.30,172.41 562.80,172.31 563.30,172.22 563.80,172.13 564.30,172.04 564.80,171.96 565.30,171.87 565.80,171.79 566.30,171.70 566.80,171.63 567.30,171.55 567.80,171.47 568.30,171.40 568.80,171.33 569.31,171.26 569.81,171.19 570.32,171.12 570.82,171.05 571.32,170.98 571.83,170.91 572.33,170.84 572.84,170.78 573.34,170.71 573.84,170.65 574.35,170.59 574.85,170.53 575.36,170.47 575.86,170.41 576.36,170.35 576.87,170.29 577.37,170.24 577.88,170.19 578.38,170.13 578.88,170.08 579.39,170.04 579.89,169.99 580.40,169.94 580.90,169.90" fill="none" stroke="#0000b4" stroke-width="2.5" stroke-linejoin="round" stroke-linecap="butt"/>
<polyline points="386.20,224.60 386.72,224.54 387.23,224.47 387.75,224.40 388.26,224.33 388.78,224.27 389.29,224.20 389.81,224.13 390.33,224.07 390.84,224.00 391.36,223.94 391.87,223.89 392.39,223.83 392.91,223.78 393.42,223.74 393.94,223.70 394.45,223.66 394.97,223.63 395.48,223.61 396.00,223.60 396.50,223.59 397.00,223.58 397.50,223.57 398.00,223.56 398.50,223.55 399.00,223.55 399.50,223.54 400.00,223.53 400.50,223.52 401.00,223.51 401.50,223.50 402.00,223.50 402.50,223.49 403.00,223.48 403.50,223.48 404.00,223.47 404.50,223.46 405.00,223.45 405.50,223.45 406.00,223.44 406.50,223.44 407.00,223.43 407.50,223.42 408.00,223.42 408.50,223.41 409.00,223.41 409.50,223.40 410.00,223.40 410.50,223.39 411.00,223.39 411.50,223.38 412.00,223.38 412.50,223.37 413.00,223.37 413.50,223.36 414.00,223.36 414.50,223.36 415.00,223.35 415.50,223.35 416.00,223.35 416.50,223.34 417.00,223.34 417.50,223.34 418.00,223.33 418.50,223.33 419.00,223.33 419.50,223.33 420.00,223.32 420.50,223.32 421.00,223.32 421.50,223.32 422.00,223.31 422.50,223.31 423.00,223.31 423.50,223.31 424.00,223.31 424.50,223.31 425.00,223.31 425.50,223.30 426.00,223.30 426.50,223.30 427.00,223.30 427.50,223.30 428.00,223.30 428.50,223.30 429.00,223.30 429.50,223.30 430.00,223.30 430.50,223.30 431.00,223.30 431.50,223.30 432.00,223.30 432.50,223.30 433.00,223.30 433.50,223.30 434.00,223.31 434.50,223.31 435.00,223.31 435.50,223.31 436.00,223.31 436.50,223.31 437.00,223.32 437.50,223.32 438.00,223.32 438.50,223.32 439.00,223.33 439.50,223.33 440.00,223.33 440.50,223.33 441.00,223.34 441.50,223.34 442.00,223.34 442.50,223.35 443.00,223.35 443.50,223.35 444.00,223.36 444.50,223.36 445.00,223.36 445.50,223.37 446.00,223.37 446.50,223.38 447.00,223.38 447.50,223.38 448.00,223.39 448.50,223.39 449.00,223.40 449.50,223.40 450.00,223.41 450.50,223.41 451.00,223.41 451.50,223.42 452.00,223.42 452.50,223.43 453.00,223.43 453.50,223.44 454.00,223.44 454.50,223.45 455.00,223.45 455.50,223.45 456.00,223.46 456.50,223.46 457.00,223.47 457.50,223.47 458.00,223.48 458.50,223.48 459.00,223.49 459.50,223.49 460.00,223.49 460.50,223.50 461.00,223.50 461.50,223.51 462.00,223.51 462.50,223.52 463.00,223.52 463.50,223.52 464.00,223.53 464.50,223.53 465.00,223.54 465.50,223.54 466.00,223.54 466.50,223.55 467.00,223.55 467.50,223.55 468.00,223.56 468.50,223.56 469.00,223.56 469.50,223.57 470.00,223.57 470.50,223.57 471.00,223.57 471.50,223.58 472.00,223.58 472.50,223.58 473.00,223.58 473.50,223.59 474.00,223.59 474.50,223.59 475.00,223.59 475.50,223.59 476.00,223.59 476.50,223.60 477.00,223.60 477.50,223.60 478.00,223.60 478.50,223.60 479.00,223.60 479.50,223.60 480.00,223.60 480.50,223.60 481.00,223.60 481.50,223.59 482.00,223.59 482.50,223.58 483.00,223.57 483.50,223.56 484.00,223.55 484.50,223.53 485.00,223.52 485.50,223.50 486.00,223.49 486.50,223.47 487.00,223.45 487.50,223.43 488.00,223.42 488.50,223.40 489.00,223.38 489.50,223.36 490.00,223.33 490.50,223.31 491.00,223.29 491.50,223.27 492.00,223.25 492.50,223.23 493.00,223.21 493.50,223.19 494.00,223.17 494.50,223.15 495.00,223.13 495.50,223.11 496.00,223.10 496.50,223.08 497.00,223.07 497.50,223.05 498.00,223.04 498.50,223.03 499.00,223.02 499.50,223.01 500.00,223.00 500.50,222.99 501.00,222.99 501.51,222.98 502.01,222.98 502.51,222.97 503.01,222.97 503.52,222.96 504.02,222.96 504.52,222.96 505.02,222.95 505.52,222.95 506.03,222.95 506.53,222.95 507.03,222.95 507.53,222.94 508.04,222.94 508.54,222.94 509.04,222.94 509.54,222.94 510.04,222.94 510.55,222.94 511.05,222.93 511.55,222.93 512.05,222.93 512.56,222.93 513.06,222.93 513.56,222.92 514.06,222.92 514.56,222.92 515.07,222.91 515.57,222.91 516.07,222.91 516.57,222.90 517.08,222.90 517.58,222.89 518.08,222.88 518.58,222.88 519.08,222.87 519.59,222.86 520.09,222.85 520.59,222.84 521.09,222.83 521.60,222.82 522.10,222.81 522.60,222.80 523.10,220.36 523.60,216.00 524.50,208.00 525.15,202.50 525.80,198.00 526.50,194.80 527.20,192.50 527.70,191.33 528.20,190.38 528.70,189.50 529.24,188.54 529.78,187.62 530.32,186.75 530.86,185.94 531.40,185.20 531.93,184.52 532.47,183.86 533.00,183.22 533.53,182.61 534.07,182.04 534.60,181.50 535.13,181.01 535.67,180.58 536.20,180.20 536.70,179.88 537.20,179.59 537.70,179.31 538.20,179.04 538.70,178.79 539.20,178.55 539.70,178.32 540.20,178.11 540.70,177.90 541.20,177.70 541.70,177.51 542.20,177.32 542.70,177.14 543.20,176.96 543.70,176.78 544.20,176.60 544.71,176.42 545.21,176.25 545.72,176.08 546.23,175.91 546.73,175.75 547.24,175.59 547.74,175.43 548.25,175.28 548.76,175.13 549.26,174.99 549.77,174.85 550.27,174.71 550.78,174.58 551.29,174.45 551.79,174.32 552.30,174.20 552.80,174.08 553.30,173.97 553.80,173.86 554.30,173.75 554.80,173.64 555.30,173.54 555.80,173.44 556.30,173.34 556.80,173.24 557.30,173.15 557.80,173.05 558.30,172.96 558.80,172.87 559.30,172.78 559.80,172.69 560.30,172.60 560.80,172.51 561.30,172.42 561.80,172.33 562.30,172.25 562.80,172.16 563.30,172.08 563.80,171.99 564.30,171.91 564.80,171.83 565.30,171.75 565.80,171.67 566.30,171.59 566.80,171.52 567.30,171.44 567.80,171.37 568.30,171.30 568.80,171.23 569.31,171.16 569.81,171.09 570.32,171.02 570.82,170.96 571.32,170.89 571.83,170.82 572.33,170.76 572.84,170.70 573.34,170.63 573.84,170.57 574.35,170.51 574.85,170.45 575.36,170.39 575.86,170.33 576.36,170.27 576.87,170.21 577.37,170.16 577.88,170.10 578.38,170.05 578.88,170.00 579.39,169.95 579.89,169.90 580.40,169.85 580.90,169.80" fill="none" stroke="#000000" stroke-width="2.5" stroke-linejoin="round" stroke-linecap="butt"/>
<text transform="translate(451.39,269.00) scale(0.9954,1)" font-size="14" font-weight="normal" font-style="normal" fill="#000">Time (min)</text>
<text transform="translate(392.42,81.50) scale(1.0165,1)" font-size="15.5" font-weight="bold" font-style="italic" fill="#000">E. coli</text>
<text transform="translate(391.95,101.40) scale(1.0275,1)" font-size="15.5" font-weight="bold" font-style="normal" fill="#000">pH 4.5</text>
<text transform="translate(506.07,110.00) scale(1.0053,1)" font-size="11.5" font-weight="bold" font-style="normal" fill="#000">Triton</text>
<line x1="521.60" y1="113.20" x2="521.60" y2="213.00" stroke="#333" stroke-width="1.0" stroke-dasharray="2,1.6"/>
<path d="M518.70,212.70 L524.30,212.70 L521.50,218.20 Z" fill="#111"/>
<line x1="587.80" y1="66.40" x2="603.10" y2="66.40" stroke="#c2c200" stroke-width="2.2" />
<line x1="587.80" y1="89.30" x2="603.10" y2="89.30" stroke="#000000" stroke-width="2.2" />
<line x1="587.80" y1="111.20" x2="603.10" y2="111.20" stroke="#8080ff" stroke-width="2.2" />
<line x1="587.80" y1="133.10" x2="603.10" y2="133.10" stroke="#0000b4" stroke-width="2.2" />
<text transform="translate(611.66,70.80) scale(1.0081,1)" font-size="13.8" font-weight="normal" font-style="normal" fill="#000">Pos Ctrl</text>
<text transform="translate(611.66,93.60) scale(1.0081,1)" font-size="13.8" font-weight="normal" font-style="normal" fill="#000">Neg Ctrl</text>
<text transform="translate(612.09,115.60) scale(1.0081,1)" font-size="13.8" font-weight="normal" font-style="normal" fill="#000">CAP 10 min</text>
<text transform="translate(612.09,137.50) scale(1.0081,1)" font-size="13.8" font-weight="normal" font-style="normal" fill="#000">CAP 20 min</text>
<rect x="47.40" y="285.40" width="195.00" height="166.90" fill="none" stroke="#2e2e2e" stroke-width="1"/>
<line x1="41.60" y1="452.30" x2="47.40" y2="452.30" stroke="#2e2e2e" stroke-width="1.0" />
<text transform="translate(31.75,457.24) scale(1.0300,1)" font-size="13.8" font-weight="normal" font-style="normal" fill="#000">0</text>
<line x1="41.60" y1="414.30" x2="47.40" y2="414.30" stroke="#2e2e2e" stroke-width="1.0" />
<text transform="translate(31.79,419.24) scale(1.0300,1)" font-size="13.8" font-weight="normal" font-style="normal" fill="#000">5</text>
<line x1="41.60" y1="376.30" x2="47.40" y2="376.30" stroke="#2e2e2e" stroke-width="1.0" />
<text transform="translate(23.84,381.24) scale(1.0300,1)" font-size="13.8" font-weight="normal" font-style="normal" fill="#000">10</text>
<line x1="41.60" y1="338.30" x2="47.40" y2="338.30" stroke="#2e2e2e" stroke-width="1.0" />
<text transform="translate(23.89,343.24) scale(1.0300,1)" font-size="13.8" font-weight="normal" font-style="normal" fill="#000">15</text>
<line x1="41.60" y1="300.30" x2="47.40" y2="300.30" stroke="#2e2e2e" stroke-width="1.0" />
<text transform="translate(23.84,305.24) scale(1.0300,1)" font-size="13.8" font-weight="normal" font-style="normal" fill="#000">20</text>
<line x1="47.30" y1="452.30" x2="47.30" y2="458.30" stroke="#2e2e2e" stroke-width="1.0" />
<text transform="translate(43.85,470.80) scale(1.0000,1)" font-size="12.4" font-weight="normal" font-style="normal" fill="#000">0</text>
<line x1="67.80" y1="452.30" x2="67.80" y2="458.30" stroke="#2e2e2e" stroke-width="1.0" />
<text transform="translate(60.67,470.80) scale(1.0000,1)" font-size="12.4" font-weight="normal" font-style="normal" fill="#000">10</text>
<line x1="88.30" y1="452.30" x2="88.30" y2="458.30" stroke="#2e2e2e" stroke-width="1.0" />
<text transform="translate(81.33,470.80) scale(1.0000,1)" font-size="12.4" font-weight="normal" font-style="normal" fill="#000">20</text>
<line x1="108.80" y1="452.30" x2="108.80" y2="458.30" stroke="#2e2e2e" stroke-width="1.0" />
<text transform="translate(101.91,470.80) scale(1.0000,1)" font-size="12.4" font-weight="normal" font-style="normal" fill="#000">30</text>
<line x1="129.30" y1="452.30" x2="129.30" y2="458.30" stroke="#2e2e2e" stroke-width="1.0" />
<text transform="translate(122.50,470.80) scale(1.0000,1)" font-size="12.4" font-weight="normal" font-style="normal" fill="#000">40</text>
<line x1="149.80" y1="452.30" x2="149.80" y2="458.30" stroke="#2e2e2e" stroke-width="1.0" />
<text transform="translate(142.90,470.80) scale(1.0000,1)" font-size="12.4" font-weight="normal" font-style="normal" fill="#000">50</text>
<line x1="170.30" y1="452.30" x2="170.30" y2="458.30" stroke="#2e2e2e" stroke-width="1.0" />
<text transform="translate(163.33,470.80) scale(1.0000,1)" font-size="12.4" font-weight="normal" font-style="normal" fill="#000">60</text>
<line x1="190.80" y1="452.30" x2="190.80" y2="458.30" stroke="#2e2e2e" stroke-width="1.0" />
<text transform="translate(183.83,470.80) scale(1.0000,1)" font-size="12.4" font-weight="normal" font-style="normal" fill="#000">70</text>
<line x1="211.30" y1="452.30" x2="211.30" y2="458.30" stroke="#2e2e2e" stroke-width="1.0" />
<text transform="translate(204.38,470.80) scale(1.0000,1)" font-size="12.4" font-weight="normal" font-style="normal" fill="#000">80</text>
<line x1="231.80" y1="452.30" x2="231.80" y2="458.30" stroke="#2e2e2e" stroke-width="1.0" />
<text transform="translate(224.86,470.80) scale(1.0000,1)" font-size="12.4" font-weight="normal" font-style="normal" fill="#000">90</text>
<polyline points="47.40,349.00 48.42,348.87 49.43,348.72 50.45,348.74 51.47,348.64 52.49,348.54 53.50,348.60 54.52,348.83 55.54,348.91 56.55,348.93 57.57,348.72 58.59,348.70 59.61,348.58 60.62,348.45 61.64,348.34 62.66,348.30 63.67,348.55 64.69,348.65 65.71,348.69 66.73,348.70 67.74,348.45 68.76,348.34 69.78,348.38 70.79,348.44 71.81,348.52 72.83,348.56 73.85,348.26 74.86,348.27 75.88,348.29 76.90,348.23 77.91,348.05 78.93,348.05 79.95,347.88 80.97,348.11 81.98,348.21 83.00,348.13 84.01,347.95 85.03,348.07 86.04,347.99 87.06,348.04 88.07,348.04 89.09,347.89 90.10,347.74 91.11,347.71 92.13,347.60 93.14,347.41 94.16,347.34 95.17,347.48 96.19,347.23 97.20,347.07 98.21,347.19 99.23,347.10 100.24,347.13 101.26,347.10 102.27,347.02 103.29,347.21 104.30,346.99 105.31,346.92 106.33,346.78 107.34,346.85 108.36,346.73 109.37,346.67 110.39,346.77 111.40,346.64 112.42,346.60 113.44,346.68 114.45,346.37 115.47,346.13 116.49,346.02 117.51,346.13 118.53,346.10 119.54,345.90 120.56,345.77 121.58,345.61 122.60,345.58 123.61,345.36 124.63,345.46 125.65,345.56 126.67,345.61 127.69,345.51 128.70,345.51 129.72,345.10 130.74,344.92 131.76,345.05 132.78,345.02 133.79,344.82 134.81,344.87 135.83,344.74 136.85,344.71 137.86,344.44 138.88,344.20 139.90,344.13 140.91,343.93 141.91,343.88 142.91,344.05 143.92,343.87 144.93,343.59 145.93,343.41 146.94,343.32 147.94,343.48 148.94,343.38 149.95,343.26 150.96,343.07 151.96,343.28 152.97,343.16 153.97,342.96 154.97,342.75 155.98,342.59 156.99,342.51 157.99,342.63 159.00,342.46 160.00,342.29 161.00,342.32 162.00,342.20 163.00,342.39 164.00,342.12 165.00,342.08 166.00,342.12 167.00,341.96 168.00,342.05 169.00,341.87 170.00,341.63 171.00,341.52 172.00,341.26 173.00,341.22 174.00,341.09 175.00,341.24 176.10,341.20 177.20,340.98 178.30,340.60 179.40,340.39 180.50,340.20 181.60,340.01 182.70,339.85 183.71,340.01 184.72,339.78 185.73,339.57 186.74,339.77 187.75,339.70 188.76,339.80 189.77,339.59 190.78,339.62 191.79,339.51 192.80,339.47 193.81,339.39 194.82,339.20 195.83,338.90 196.84,338.73 197.85,338.86 198.86,338.91 199.87,338.91 200.88,338.65 201.89,338.58 202.90,338.57 203.91,338.46 204.92,338.43 205.93,338.26 206.94,338.18 207.95,338.10 208.96,337.86 209.97,337.94 210.98,337.97 211.99,337.59 213.01,337.70 214.02,337.72 215.03,337.58 216.04,337.21 217.05,337.30 218.06,337.01 219.07,337.14 220.08,337.06 221.09,336.73 222.10,336.55 223.11,336.59 224.12,336.55 225.13,336.56 226.14,336.61 227.15,336.32 228.16,336.03 229.17,336.18 230.18,335.88 231.19,336.01 232.20,335.74 233.21,335.83 234.22,335.84 235.23,335.84 236.24,335.68 237.25,335.68 238.26,335.38 239.27,335.35 240.28,335.16 241.29,335.23 242.30,335.00" fill="none" stroke="#c2c200" stroke-width="2.5" stroke-linejoin="round" stroke-linecap="butt"/>
<polyline points="47.40,418.80 48.44,418.76 49.48,418.74 50.51,418.71 51.55,418.72 52.59,418.60 53.62,418.57 54.66,418.15 55.70,418.04 56.74,418.13 57.77,418.03 58.81,418.03 59.85,417.68 60.89,417.57 61.92,417.38 62.96,417.35 64.00,417.30 65.00,417.06 66.00,416.97 67.00,416.92 68.00,417.13 69.00,417.17 70.00,416.94 71.00,417.03 72.00,416.80 73.00,416.84 74.00,416.64 75.00,416.46 76.00,416.67 77.00,416.52 78.00,416.41 79.00,416.63 80.00,416.70 81.00,416.48 82.00,416.60 83.00,416.49 84.00,416.45 85.00,416.22 86.00,416.36 87.00,416.32 88.00,416.39 89.00,416.38 90.00,416.12 91.00,415.97 92.00,415.78 93.00,415.63 94.00,415.50 95.00,415.49 96.00,415.58 97.00,415.38 98.00,415.51 99.00,415.43 100.00,415.35 101.00,415.49 102.00,415.42 103.01,415.27 104.03,415.22 105.04,415.25 106.06,414.98 107.07,415.16 108.09,414.86 109.10,414.95 110.11,415.01 111.13,414.69 112.14,414.78 113.16,414.63 114.17,414.60 115.19,414.33 116.20,414.16 117.21,414.08 118.23,414.31 119.24,414.13 120.26,414.21 121.27,414.30 122.29,414.33 123.30,414.09 124.31,413.92 125.33,413.85 126.34,413.89 127.36,413.62 128.37,413.68 129.39,413.72 130.40,413.73 131.40,413.38 132.40,413.49 133.40,413.19 134.40,413.08 135.40,413.09 136.40,413.18 137.40,412.98 138.40,413.06 139.40,412.92 140.40,412.71 141.40,412.56 142.40,412.38 143.40,412.20 144.40,412.09 145.40,412.21 146.40,412.37 147.40,412.10 148.40,411.87 149.40,412.07 150.44,411.93 151.48,411.75 152.52,411.53 153.56,411.49 154.60,411.51 155.64,411.33 156.68,411.16 157.72,410.86 158.76,410.98 159.80,410.65 160.84,410.59 161.88,410.64 162.92,410.34 163.96,410.35 165.00,410.40 166.07,410.25 167.15,410.18 168.22,409.82 169.29,409.69 170.36,409.44 171.44,409.53 172.51,409.31 173.58,409.20 174.65,409.30 175.73,409.26 176.80,409.24 177.98,408.82 179.16,408.48 180.34,408.27 181.52,407.94 182.70,407.60 182.70,407.60 183.23,407.42 183.75,407.21 184.28,406.99 184.81,406.75 185.34,406.50 185.86,406.23 186.39,405.95 186.92,405.65 187.45,405.34 187.97,405.03 188.50,404.70 189.01,404.36 189.52,403.97 190.03,403.55 190.54,403.11 191.05,402.65 191.56,402.19 192.07,401.73 192.58,401.29 193.09,400.88 193.60,400.50 194.12,400.14 194.65,399.79 195.17,399.45 195.70,399.13 196.22,398.81 196.75,398.50 197.28,398.20 197.80,397.90 198.32,397.60 198.85,397.30 199.38,397.01 199.90,396.72 200.43,396.42 200.95,396.12 201.47,395.81 202.00,395.50 202.53,395.18 203.05,394.86 203.57,394.54 204.10,394.21 204.62,393.88 205.15,393.55 205.68,393.22 206.20,392.89 206.72,392.57 207.25,392.24 207.78,391.92 208.30,391.61 208.83,391.30 209.35,390.99 209.88,390.69 210.40,390.40 210.93,390.11 211.45,389.83 211.97,389.55 212.50,389.27 213.03,388.99 213.55,388.72 214.08,388.45 214.60,388.19 215.12,387.92 215.65,387.67 216.18,387.41 216.70,387.16 217.23,386.91 217.75,386.67 218.28,386.43 218.80,386.20 219.33,385.97 219.85,385.75 220.38,385.53 220.90,385.32 221.43,385.11 221.95,384.90 222.47,384.70 223.00,384.50 223.53,384.30 224.05,384.10 224.57,383.90 225.10,383.71 225.62,383.51 226.15,383.31 226.67,383.10 227.20,382.90 227.70,382.70 228.21,382.51 228.71,382.31 229.21,382.11 229.72,381.91 230.22,381.72 230.72,381.52 231.23,381.32 231.73,381.13 232.23,380.93 232.74,380.73 233.24,380.54 233.74,380.34 234.25,380.14 234.75,379.95 235.25,379.75 235.76,379.55 236.26,379.36 236.76,379.16 237.27,378.96 237.77,378.77 238.27,378.57 238.78,378.37 239.28,378.18 239.78,377.98 240.29,377.78 240.79,377.59 241.29,377.39 241.80,377.20 242.30,377.00" fill="none" stroke="#ff7777" stroke-width="2.5" stroke-linejoin="round" stroke-linecap="butt"/>
<polyline points="47.40,391.30 48.44,391.48 49.48,391.62 50.51,391.60 51.55,391.52 52.59,391.40 53.62,391.61 54.66,391.69 55.70,391.87 56.74,391.86 57.77,392.03 58.81,391.96 59.85,392.15 60.89,392.27 61.92,392.23 62.96,392.29 64.00,392.40 65.25,393.09 66.50,393.98 67.50,393.71 68.50,393.17 69.50,393.19 70.50,393.10 71.50,393.06 72.50,392.79 73.50,392.48 74.53,392.65 75.56,392.75 76.60,392.67 77.63,392.48 78.66,392.41 79.69,392.54 80.72,392.48 81.75,392.71 82.79,392.70 83.82,392.54 84.85,392.63 85.88,392.56 86.91,392.75 87.95,392.85 88.98,392.76 90.01,392.75 91.04,392.77 92.07,392.82 93.10,392.93 94.14,392.61 95.17,392.55 96.20,392.61 97.33,392.33 98.47,392.19 99.60,391.83 100.73,391.85 101.87,391.64 103.00,391.27 104.08,391.12 105.17,390.78 106.25,390.43 107.33,390.22 108.42,389.86 109.50,389.56 110.60,389.96 111.70,390.20 112.80,390.13 113.90,390.46 115.00,390.42 116.18,390.39 117.36,390.58 118.54,390.56 119.72,390.41 120.90,390.33 121.91,390.15 122.93,389.87 123.94,389.98 124.95,389.60 125.97,389.46 126.98,389.43 127.99,389.21 129.01,389.25 130.02,388.91 131.03,388.93 132.05,388.84 133.06,388.63 134.07,388.53 135.09,388.22 136.10,388.13 137.12,388.12 138.15,388.00 139.17,387.89 140.19,387.91 141.22,387.79 142.24,387.58 143.26,387.70 144.28,387.57 145.31,387.57 146.33,387.67 147.35,387.48 148.38,387.29 149.40,387.20 150.44,387.27 151.48,387.19 152.52,387.06 153.56,387.02 154.60,387.16 155.64,386.94 156.68,386.83 157.72,386.92 158.76,386.83 159.80,386.61 160.84,386.52 161.88,386.44 162.92,386.22 163.96,386.14 165.00,386.04 166.04,386.08 167.08,385.85 168.12,385.79 169.16,385.82 170.21,385.76 171.25,385.44 172.29,385.29 173.33,385.02 174.37,384.83 175.41,384.70 176.45,384.68 177.49,384.67 178.54,384.35 179.58,383.98 180.62,383.88 181.66,383.60 182.70,383.70 182.70,383.70 183.22,383.54 183.74,383.39 184.26,383.23 184.78,383.07 185.30,382.91 185.81,382.76 186.33,382.60 186.85,382.44 187.37,382.29 187.89,382.13 188.41,381.97 188.93,381.82 189.45,381.66 189.97,381.50 190.49,381.34 191.00,381.19 191.52,381.03 192.04,380.87 192.56,380.71 193.08,380.56 193.60,380.40 194.11,380.24 194.62,380.09 195.13,379.93 195.64,379.77 196.15,379.60 196.65,379.44 197.16,379.27 197.67,379.11 198.18,378.94 198.69,378.77 199.20,378.60 199.71,378.44 200.22,378.27 200.73,378.10 201.24,377.93 201.75,377.77 202.25,377.60 202.76,377.44 203.27,377.28 203.78,377.12 204.29,376.96 204.80,376.80 205.31,376.65 205.82,376.50 206.33,376.35 206.84,376.21 207.35,376.07 207.85,375.93 208.36,375.79 208.87,375.66 209.38,375.54 209.89,375.42 210.40,375.30 210.91,375.19 211.42,375.08 211.93,374.97 212.44,374.87 212.95,374.77 213.45,374.67 213.96,374.57 214.47,374.48 214.98,374.39 215.49,374.30 216.00,374.21 216.51,374.12 217.02,374.03 217.53,373.95 218.04,373.87 218.55,373.78 219.05,373.70 219.56,373.62 220.07,373.54 220.58,373.45 221.09,373.37 221.60,373.29 222.11,373.20 222.62,373.12 223.13,373.04 223.64,372.95 224.15,372.86 224.65,372.77 225.16,372.68 225.67,372.59 226.18,372.50 226.69,372.40 227.20,372.30 227.70,372.20 228.21,372.10 228.71,372.00 229.21,371.90 229.72,371.79 230.22,371.69 230.72,371.59 231.23,371.48 231.73,371.38 232.23,371.27 232.74,371.16 233.24,371.05 233.74,370.95 234.25,370.84 234.75,370.73 235.25,370.62 235.76,370.50 236.26,370.39 236.76,370.28 237.27,370.17 237.77,370.05 238.27,369.94 238.78,369.82 239.28,369.71 239.78,369.59 240.29,369.47 240.79,369.36 241.29,369.24 241.80,369.12 242.30,369.00" fill="none" stroke="#cc0000" stroke-width="2.5" stroke-linejoin="round" stroke-linecap="butt"/>
<polyline points="47.40,443.90 48.43,443.84 49.46,443.75 50.49,443.89 51.52,443.75 52.56,443.86 53.59,443.87 54.62,443.75 55.65,443.87 56.68,443.75 57.71,443.85 58.74,443.77 59.77,443.73 60.80,443.85 61.83,444.09 62.87,443.95 63.90,443.92 64.93,444.06 65.96,444.28 66.99,444.27 68.02,444.20 69.05,444.40 70.08,444.15 71.11,444.33 72.14,444.21 73.18,444.09 74.21,444.01 75.24,444.05 76.27,444.28 77.30,444.17 78.36,444.38 79.41,444.57 80.47,444.63 81.52,444.79 82.58,444.74 83.63,444.75 84.69,444.87 85.74,445.18 86.80,445.31 87.80,445.27 88.81,445.35 89.81,445.34 90.82,445.28 91.82,445.43 92.82,445.49 93.83,445.34 94.83,445.38 95.83,445.38 96.84,445.52 97.84,445.55 98.85,445.38 99.85,445.56 100.85,445.32 101.86,445.29 102.86,445.41 103.86,445.24 104.87,445.27 105.87,445.11 106.88,445.26 107.88,445.39 108.88,445.39 109.89,445.50 110.89,445.35 111.89,445.41 112.90,445.40 113.90,445.39 114.91,445.33 115.91,445.45 116.91,445.56 117.92,445.44 118.92,445.44 119.92,445.19 120.93,445.30 121.93,445.35 122.94,445.51 123.94,445.54 124.94,445.34 125.95,445.25 126.95,445.32 127.95,445.10 128.96,445.14 129.96,445.04 130.97,444.96 131.97,444.89 132.97,445.13 133.98,445.02 134.98,444.99 135.98,445.04 136.99,445.25 137.99,445.06 139.00,445.10 140.00,445.16 141.00,445.46 142.00,445.67 143.00,445.87 144.00,445.81 145.00,445.88 146.00,445.95 147.50,447.02 148.50,446.16 149.50,444.91 150.60,444.76 151.70,444.68 152.80,444.63 153.90,444.69 155.00,444.75 156.00,445.18 157.00,445.53 158.00,446.10 159.00,446.03 160.00,446.02 161.00,446.14 162.00,446.06 163.00,446.10 164.00,446.21 165.00,446.34 166.00,445.86 167.00,445.82 168.00,445.65 169.00,445.49 170.00,445.27 171.07,445.09 172.15,444.98 173.22,444.78 174.29,444.86 175.36,444.67 176.44,444.55 177.51,444.52 178.58,444.47 179.65,444.51 180.73,444.40 181.80,444.70 181.80,444.70 182.37,443.84 182.93,442.95 183.50,442.03 184.07,441.08 184.63,440.11 185.20,439.10 185.72,438.15 186.25,437.18 186.78,436.19 187.30,435.18 187.82,434.13 188.35,433.03 188.88,431.89 189.40,430.70 189.93,429.40 190.45,427.96 190.97,426.43 191.50,424.86 192.03,423.29 192.55,421.76 193.07,420.31 193.60,419.00 194.10,417.85 194.60,416.76 195.10,415.72 195.60,414.71 196.10,413.73 196.60,412.77 197.10,411.81 197.60,410.85 198.10,409.89 198.60,408.90 199.11,407.86 199.62,406.80 200.13,405.72 200.64,404.64 201.15,403.56 201.66,402.52 202.17,401.50 202.68,400.54 203.19,399.63 203.70,398.80 204.22,398.02 204.73,397.29 205.25,396.60 205.76,395.94 206.28,395.31 206.79,394.69 207.31,394.09 207.82,393.49 208.34,392.90 208.85,392.30 209.37,391.68 209.88,391.05 210.40,390.40 210.90,389.74 211.40,389.06 211.90,388.36 212.40,387.65 212.90,386.95 213.40,386.26 213.90,385.58 214.40,384.92 214.90,384.29 215.40,383.70 215.93,383.08 216.45,382.43 216.97,381.79 217.50,381.17 218.03,380.60 218.55,380.12 219.07,379.74 219.60,379.50 220.12,379.35 220.65,379.24 221.18,379.15 221.70,379.07 222.22,379.00 222.75,378.92 223.28,378.83 223.80,378.70 224.30,378.54 224.80,378.33 225.30,378.09 225.80,377.82 226.30,377.53 226.80,377.24 227.30,376.95 227.80,376.67 228.30,376.42 228.80,376.20 229.31,376.00 229.82,375.82 230.33,375.65 230.84,375.49 231.35,375.33 231.86,375.17 232.37,375.01 232.88,374.85 233.39,374.68 233.90,374.50 234.43,374.31 234.95,374.11 235.47,373.92 236.00,373.72 236.53,373.51 237.05,373.31 237.58,373.10 238.10,372.89 238.62,372.68 239.15,372.46 239.68,372.24 240.20,372.02 240.73,371.79 241.25,371.57 241.78,371.33 242.30,371.10" fill="none" stroke="#000000" stroke-width="2.5" stroke-linejoin="round" stroke-linecap="butt"/>
<text transform="translate(17.60,458.42) rotate(-90) scale(0.9855,1)" font-size="16" font-weight="normal" fill="#000">SYTOX Green F.I. (norm.)</text>
<text transform="translate(112.80,488.90) scale(0.9665,1)" font-size="14" font-weight="normal" font-style="normal" fill="#000">Time (min)</text>
<text transform="translate(52.61,302.90) scale(1.0103,1)" font-size="15.5" font-weight="bold" font-style="italic" fill="#000">S. simulans</text>
<text transform="translate(52.86,323.20) scale(1.0196,1)" font-size="15.5" font-weight="bold" font-style="normal" fill="#000">pH 7.4</text>
<text transform="translate(147.62,307.40) scale(1.0118,1)" font-size="11.5" font-weight="bold" font-style="normal" fill="#000">Nisin+Triton</text>
<line x1="182.70" y1="311.10" x2="182.70" y2="438.50" stroke="#333" stroke-width="1.0" stroke-dasharray="2,1.6"/>
<path d="M180.20,438.30 L185.80,438.30 L183.00,444.30 Z" fill="#111"/>
<line x1="247.40" y1="287.60" x2="263.00" y2="287.60" stroke="#c2c200" stroke-width="2.2" />
<line x1="247.40" y1="312.40" x2="263.00" y2="312.40" stroke="#000000" stroke-width="2.2" />
<line x1="247.40" y1="335.10" x2="263.00" y2="335.10" stroke="#ff7777" stroke-width="2.2" />
<line x1="247.40" y1="359.50" x2="263.00" y2="359.50" stroke="#cc0000" stroke-width="2.2" />
<text transform="translate(270.86,291.90) scale(1.0081,1)" font-size="13.8" font-weight="normal" font-style="normal" fill="#000">Pos Ctrl</text>
<text transform="translate(270.86,316.60) scale(1.0081,1)" font-size="13.8" font-weight="normal" font-style="normal" fill="#000">Neg Ctrl</text>
<text transform="translate(271.29,339.50) scale(1.0081,1)" font-size="13.8" font-weight="normal" font-style="normal" fill="#000">CAP 10 min</text>
<text transform="translate(271.29,364.00) scale(1.0081,1)" font-size="13.8" font-weight="normal" font-style="normal" fill="#000">CAP 20 min</text>
<rect x="385.50" y="285.40" width="194.80" height="166.50" fill="none" stroke="#2e2e2e" stroke-width="1"/>
<line x1="379.70" y1="451.90" x2="385.50" y2="451.90" stroke="#2e2e2e" stroke-width="1.0" />
<text transform="translate(370.55,456.84) scale(1.0300,1)" font-size="13.8" font-weight="normal" font-style="normal" fill="#000">0</text>
<line x1="379.70" y1="414.00" x2="385.50" y2="414.00" stroke="#2e2e2e" stroke-width="1.0" />
<text transform="translate(370.59,418.94) scale(1.0300,1)" font-size="13.8" font-weight="normal" font-style="normal" fill="#000">5</text>
<line x1="379.70" y1="376.10" x2="385.50" y2="376.10" stroke="#2e2e2e" stroke-width="1.0" />
<text transform="translate(362.64,381.04) scale(1.0300,1)" font-size="13.8" font-weight="normal" font-style="normal" fill="#000">10</text>
<line x1="379.70" y1="338.20" x2="385.50" y2="338.20" stroke="#2e2e2e" stroke-width="1.0" />
<text transform="translate(362.69,343.14) scale(1.0300,1)" font-size="13.8" font-weight="normal" font-style="normal" fill="#000">15</text>
<line x1="379.70" y1="300.30" x2="385.50" y2="300.30" stroke="#2e2e2e" stroke-width="1.0" />
<text transform="translate(362.64,305.24) scale(1.0300,1)" font-size="13.8" font-weight="normal" font-style="normal" fill="#000">20</text>
<line x1="385.40" y1="451.90" x2="385.40" y2="457.90" stroke="#2e2e2e" stroke-width="1.0" />
<text transform="translate(381.95,470.60) scale(1.0000,1)" font-size="12.4" font-weight="normal" font-style="normal" fill="#000">0</text>
<line x1="405.93" y1="451.90" x2="405.93" y2="457.90" stroke="#2e2e2e" stroke-width="1.0" />
<text transform="translate(398.80,470.60) scale(1.0000,1)" font-size="12.4" font-weight="normal" font-style="normal" fill="#000">10</text>
<line x1="426.46" y1="451.90" x2="426.46" y2="457.90" stroke="#2e2e2e" stroke-width="1.0" />
<text transform="translate(419.49,470.60) scale(1.0000,1)" font-size="12.4" font-weight="normal" font-style="normal" fill="#000">20</text>
<line x1="446.99" y1="451.90" x2="446.99" y2="457.90" stroke="#2e2e2e" stroke-width="1.0" />
<text transform="translate(440.10,470.60) scale(1.0000,1)" font-size="12.4" font-weight="normal" font-style="normal" fill="#000">30</text>
<line x1="467.52" y1="451.90" x2="467.52" y2="457.90" stroke="#2e2e2e" stroke-width="1.0" />
<text transform="translate(460.72,470.60) scale(1.0000,1)" font-size="12.4" font-weight="normal" font-style="normal" fill="#000">40</text>
<line x1="488.05" y1="451.90" x2="488.05" y2="457.90" stroke="#2e2e2e" stroke-width="1.0" />
<text transform="translate(481.15,470.60) scale(1.0000,1)" font-size="12.4" font-weight="normal" font-style="normal" fill="#000">50</text>
<line x1="508.58" y1="451.90" x2="508.58" y2="457.90" stroke="#2e2e2e" stroke-width="1.0" />
<text transform="translate(501.61,470.60) scale(1.0000,1)" font-size="12.4" font-weight="normal" font-style="normal" fill="#000">60</text>
<line x1="529.11" y1="451.90" x2="529.11" y2="457.90" stroke="#2e2e2e" stroke-width="1.0" />
<text transform="translate(522.14,470.60) scale(1.0000,1)" font-size="12.4" font-weight="normal" font-style="normal" fill="#000">70</text>
<line x1="549.64" y1="451.90" x2="549.64" y2="457.90" stroke="#2e2e2e" stroke-width="1.0" />
<text transform="translate(542.72,470.60) scale(1.0000,1)" font-size="12.4" font-weight="normal" font-style="normal" fill="#000">80</text>
<line x1="570.17" y1="451.90" x2="570.17" y2="457.90" stroke="#2e2e2e" stroke-width="1.0" />
<text transform="translate(563.23,470.60) scale(1.0000,1)" font-size="12.4" font-weight="normal" font-style="normal" fill="#000">90</text>
<polyline points="385.50,336.00 386.51,335.85 387.52,336.05 388.53,335.81 389.54,335.89 390.55,335.67 391.56,335.59 392.56,335.83 393.57,335.64 394.58,335.68 395.59,335.62 396.60,335.57 397.61,335.54 398.62,335.39 399.63,335.53 400.64,335.31 401.65,335.22 402.66,335.07 403.67,335.06 404.68,335.09 405.69,335.30 406.69,335.20 407.70,335.02 408.71,334.95 409.72,335.19 410.73,334.95 411.74,335.01 412.75,334.93 413.76,334.99 414.77,334.88 415.78,334.94 416.79,334.88 417.80,334.89 418.81,334.98 419.81,334.90 420.82,334.65 421.83,334.46 422.84,334.69 423.85,334.62 424.86,334.45 425.87,334.63 426.88,334.58 427.89,334.60 428.90,334.65 429.91,334.43 430.92,334.31 431.93,334.43 432.94,334.20 433.94,334.29 434.95,334.07 435.96,334.15 436.97,334.19 437.98,334.30 438.99,334.31 440.00,334.17 441.00,333.92 442.00,333.73 443.00,333.75 444.00,333.73 445.00,333.52 446.00,333.70 447.00,333.63 448.00,333.64 449.00,333.44 450.00,333.30 451.00,333.10 452.00,333.09 453.00,333.03 454.00,333.04 455.00,333.00 456.00,333.14 457.00,333.22 458.00,332.96 459.00,332.87 460.00,332.70 461.00,332.78 462.00,332.92 463.00,332.68 464.00,332.74 465.00,332.56 466.00,332.32 467.00,332.45 468.00,332.34 469.00,332.18 470.00,332.17 471.01,332.05 472.02,332.03 473.03,332.01 474.04,331.96 475.05,331.97 476.07,331.84 477.08,331.65 478.09,331.51 479.10,331.42 480.11,331.50 481.12,331.46 482.13,331.59 483.14,331.52 484.15,331.54 485.16,331.63 486.17,331.30 487.18,331.06 488.20,330.93 489.21,330.94 490.22,330.99 491.23,331.06 492.24,330.93 493.25,331.06 494.26,330.74 495.27,330.85 496.28,330.65 497.29,330.76 498.30,330.47 499.32,330.65 500.33,330.65 501.34,330.71 502.35,330.56 503.36,330.29 504.37,330.42 505.38,330.26 506.39,330.00 507.40,330.02 508.41,329.97 509.42,329.91 510.43,329.71 511.45,329.56 512.46,329.63 513.47,329.60 514.48,329.42 515.49,329.42 516.50,329.50 517.75,329.49 519.00,329.30 521.20,327.20 539.80,327.70 541.00,327.50 542.60,324.70 580.20,324.70" fill="none" stroke="#c2c200" stroke-width="2.5" stroke-linejoin="round" stroke-linecap="butt"/>
<polyline points="385.50,427.10 386.54,426.83 387.57,426.51 388.61,426.11 389.65,426.12 390.69,425.60 391.73,425.43 392.76,425.43 393.80,424.91 394.84,424.74 395.88,424.56 396.91,424.07 397.95,423.84 398.99,423.76 400.03,423.48 401.06,423.35 402.10,422.88 403.11,422.70 404.11,422.49 405.12,422.51 406.12,422.70 407.13,422.61 408.14,422.60 409.14,422.36 410.15,422.36 411.16,422.00 412.16,421.83 413.17,421.89 414.18,421.91 415.18,421.72 416.19,421.41 417.19,421.27 418.20,421.12 419.20,421.04 420.20,421.22 421.20,421.00 422.20,421.17 423.20,421.24 424.20,420.84 425.20,420.73 426.20,420.68 427.20,420.39 428.20,420.38 429.20,420.59 430.20,420.28 431.20,420.30 432.20,420.05 433.20,420.09 434.20,420.24 435.21,419.99 436.21,419.72 437.22,419.57 438.23,419.69 439.23,419.48 440.24,419.37 441.24,419.49 442.25,419.76 443.26,419.64 444.26,419.55 445.27,419.59 446.27,419.32 447.28,419.38 448.29,419.19 449.29,419.28 450.30,419.49 451.31,419.12 452.31,419.12 453.32,419.12 454.32,418.87 455.33,418.75 456.34,419.01 457.34,419.14 458.35,418.75 459.36,418.79 460.36,418.90 461.37,418.59 462.38,418.56 463.38,418.23 464.39,418.16 465.39,418.25 466.40,418.23 467.45,418.30 468.49,417.97 469.54,417.87 470.58,418.05 471.63,417.99 472.68,417.87 473.72,417.74 474.77,417.93 475.82,417.82 476.86,417.45 477.91,417.59 478.95,417.42 480.00,417.34 481.01,417.16 482.03,417.15 483.04,417.06 484.06,416.86 485.07,416.99 486.08,416.78 487.10,416.97 488.11,416.68 489.12,416.87 490.14,416.96 491.15,416.85 492.17,416.86 493.18,416.61 494.19,416.68 495.21,416.55 496.22,416.35 497.24,416.57 498.25,416.40 499.26,416.26 500.28,416.39 501.29,416.20 502.31,416.22 503.32,415.95 504.33,416.11 505.35,415.89 506.36,415.63 507.38,415.91 508.39,415.65 509.40,415.86 510.42,415.99 511.43,415.85 512.44,415.44 513.46,415.20 514.47,415.11 515.49,415.12 516.50,415.21 517.51,415.46 518.53,415.30 519.54,415.09 520.55,415.17 521.57,414.99 522.58,414.86 523.59,415.00 524.60,415.15 525.62,414.92 526.63,414.97 527.64,415.12 528.66,415.23 529.67,415.10 530.68,415.26 531.70,415.00 532.71,415.10 533.72,415.19 534.73,415.29 535.75,415.15 536.76,414.86 537.77,414.65 538.79,414.76 539.80,414.90 541.20,402.00 542.50,380.00 543.80,360.00 545.50,348.00 548.00,343.00 553.70,340.90 580.20,340.00" fill="none" stroke="#8080ff" stroke-width="2.5" stroke-linejoin="round" stroke-linecap="butt"/>
<polyline points="385.50,403.30 386.52,402.79 387.54,402.16 388.56,401.66 389.58,400.88 390.60,400.61 391.62,400.23 392.64,399.66 393.66,398.75 394.68,398.23 395.70,397.56 396.77,397.12 397.83,397.22 398.90,397.18 399.97,396.36 401.03,396.31 402.10,395.97 403.17,395.48 404.23,394.99 405.30,394.85 406.31,394.45 407.32,394.23 408.34,393.94 409.35,393.26 410.36,393.15 411.38,393.10 412.39,392.92 413.40,392.42 414.47,392.33 415.53,392.41 416.60,392.71 417.67,392.75 418.73,392.14 419.80,391.63 420.87,391.51 421.93,390.84 423.00,390.42 424.02,390.22 425.04,389.78 426.05,389.83 427.07,389.98 428.09,389.53 429.11,389.25 430.13,389.15 431.15,388.77 432.16,388.81 433.18,389.00 434.20,388.94 435.27,388.59 436.33,388.48 437.40,387.79 438.47,387.55 439.53,387.14 440.60,386.92 441.67,386.78 442.73,387.21 443.80,387.04 444.88,386.49 445.97,386.45 447.05,386.35 448.13,385.77 449.22,385.24 450.30,384.63 451.48,384.47 452.65,384.58 453.82,384.31 455.00,384.07 456.23,383.81 457.45,383.29 458.67,383.16 459.90,383.04 460.91,383.05 461.92,382.80 462.94,382.51 463.95,382.35 464.96,381.90 465.98,382.07 466.99,381.86 468.00,381.67 469.20,381.40 470.40,381.46 471.60,381.56 472.80,381.45 473.83,381.54 474.86,381.37 475.89,380.87 476.91,380.68 477.94,380.74 478.97,380.41 480.00,380.18 481.02,379.71 482.05,379.69 483.07,379.62 484.09,379.50 485.12,379.40 486.14,379.43 487.16,379.37 488.18,379.26 489.21,378.94 490.23,378.90 491.25,379.20 492.28,378.96 493.30,378.52 494.45,377.90 495.60,377.75 496.75,377.16 497.90,376.69 499.05,376.26 500.20,376.10 501.29,376.82 502.38,377.00 503.47,377.17 504.56,377.35 505.64,377.59 506.73,377.78 507.82,378.18 508.91,378.63 510.00,378.85 511.04,378.81 512.08,379.01 513.12,379.37 514.15,379.12 515.19,379.09 516.23,379.40 517.27,379.69 518.31,379.90 519.35,380.05 520.38,380.37 521.42,380.37 522.46,380.67 523.50,381.02 524.52,380.66 525.54,380.70 526.56,380.58 527.58,380.59 528.59,379.96 529.61,380.15 530.63,380.11 531.65,380.19 532.67,380.20 533.69,379.68 534.71,379.60 535.72,379.13 536.74,379.13 537.76,379.31 538.78,378.87 539.80,378.80 542.10,373.00 543.50,365.00 544.60,360.00 546.70,355.60 553.70,353.30 565.00,350.50 580.20,347.90" fill="none" stroke="#0000c0" stroke-width="2.5" stroke-linejoin="round" stroke-linecap="butt"/>
<polyline points="385.50,441.30 387.00,443.85 388.00,443.95 389.00,444.42 390.00,444.21 391.00,444.13 392.00,444.18 393.00,443.78 394.00,443.90 395.00,444.11 396.00,444.43 397.00,443.85 398.00,443.75 399.00,443.46 400.00,444.08 401.00,444.33 402.00,443.78 403.00,444.48 404.00,444.90 405.00,444.81 406.00,444.72 407.00,444.17 408.00,443.69 409.00,443.98 410.00,443.64 411.00,443.59 412.00,443.62 413.00,443.42 414.00,443.78 415.00,443.98 416.00,444.54 417.00,444.54 418.00,444.67 419.00,444.61 420.00,444.75 421.00,444.61 422.00,444.32 423.00,444.95 424.00,445.32 425.00,445.37 426.00,445.26 427.00,444.76 428.00,444.37 429.00,444.20 430.00,443.86 431.00,444.42 432.00,444.36 433.00,444.81 434.00,444.58 435.00,445.07 436.00,445.24 437.00,444.41 438.00,444.15 439.00,444.76 440.00,444.64 441.00,445.14 442.00,444.79 443.00,444.23 444.00,444.51 445.00,444.84 446.00,444.48 447.00,444.06 448.00,444.08 449.00,444.79 450.00,444.99 451.00,444.41 452.00,444.20 453.00,443.91 454.00,443.70 455.00,444.38 456.00,444.11 457.00,444.37 458.00,444.40 459.00,444.14 460.00,444.58 461.00,444.18 462.00,444.49 463.00,444.10 464.00,444.20 465.00,444.02 466.00,443.98 467.00,444.72 468.00,444.98 469.00,444.58 470.00,444.98 471.00,444.47 472.00,444.37 473.00,444.81 474.00,444.83 475.00,444.25 476.00,444.88 477.00,444.39 478.00,444.15 479.00,444.57 480.00,444.33 481.00,444.15 482.00,443.79 483.00,443.59 484.00,444.01 485.00,443.88 486.00,444.20 487.00,444.13 488.00,444.18 489.00,444.76 490.00,444.58 491.00,444.58 492.00,444.89 493.00,444.32 494.00,443.95 495.00,444.55 496.00,444.81 497.00,444.33 498.00,443.98 499.00,444.37 500.00,444.82 501.02,444.26 502.04,444.74 503.06,444.94 504.08,444.75 505.10,444.42 506.12,443.87 507.14,443.46 508.16,444.21 509.18,443.86 510.21,444.16 511.23,443.83 512.25,444.25 513.27,444.24 514.29,443.90 515.31,443.55 516.33,443.93 517.35,443.43 518.37,443.30 519.39,443.58 520.41,444.06 521.43,444.07 522.45,443.70 523.47,444.18 524.49,443.66 525.51,443.14 526.53,443.10 527.55,443.26 528.57,442.92 529.59,442.83 530.62,442.98 531.64,443.29 532.66,442.98 533.68,443.04 534.70,443.64 535.72,444.10 536.74,444.01 537.76,443.98 538.78,443.84 539.80,443.40 541.00,442.80 542.20,410.00 543.30,373.00 544.50,355.00 545.60,347.40 549.10,342.30 556.00,340.90 580.20,341.60" fill="none" stroke="#000000" stroke-width="2.5" stroke-linejoin="round" stroke-linecap="butt"/>
<text transform="translate(450.85,488.90) scale(0.9665,1)" font-size="14" font-weight="normal" font-style="normal" fill="#000">Time (min)</text>
<text transform="translate(391.31,303.20) scale(1.0103,1)" font-size="15.5" font-weight="bold" font-style="italic" fill="#000">S. simulans</text>
<text transform="translate(390.45,321.70) scale(1.0275,1)" font-size="15.5" font-weight="bold" font-style="normal" fill="#000">pH 4.5</text>
<text transform="translate(505.22,306.70) scale(1.0163,1)" font-size="11.5" font-weight="bold" font-style="normal" fill="#000">Nisin+Triton</text>
<line x1="539.80" y1="307.90" x2="539.80" y2="437.00" stroke="#333" stroke-width="1.0" stroke-dasharray="2,1.6"/>
<path d="M537.00,437.20 L542.60,437.20 L539.80,443.00 Z" fill="#111"/>
<line x1="585.20" y1="289.80" x2="600.00" y2="289.80" stroke="#c2c200" stroke-width="2.2" />
<line x1="585.20" y1="314.80" x2="600.00" y2="314.80" stroke="#000000" stroke-width="2.2" />
<line x1="585.20" y1="339.00" x2="600.00" y2="339.00" stroke="#8080ff" stroke-width="2.2" />
<line x1="585.20" y1="361.30" x2="600.00" y2="361.30" stroke="#0000c0" stroke-width="2.2" />
<text transform="translate(608.56,294.80) scale(1.0081,1)" font-size="13.8" font-weight="normal" font-style="normal" fill="#000">Pos Ctrl</text>
<text transform="translate(608.56,319.30) scale(1.0081,1)" font-size="13.8" font-weight="normal" font-style="normal" fill="#000">Neg Ctrl</text>
<text transform="translate(608.99,343.90) scale(1.0081,1)" font-size="13.8" font-weight="normal" font-style="normal" fill="#000">CAP 10 min</text>
<text transform="translate(608.99,366.30) scale(1.0081,1)" font-size="13.8" font-weight="normal" font-style="normal" fill="#000">CAP 20 min</text>
<rect x="47.80" y="563.60" width="198.60" height="169.80" fill="none" stroke="#2e2e2e" stroke-width="1"/>
<line x1="42.00" y1="733.40" x2="47.80" y2="733.40" stroke="#2e2e2e" stroke-width="1.0" />
<text transform="translate(32.94,738.41) scale(1.0300,1)" font-size="14.0" font-weight="normal" font-style="normal" fill="#000">0</text>
<line x1="42.00" y1="691.00" x2="47.80" y2="691.00" stroke="#2e2e2e" stroke-width="1.0" />
<text transform="translate(33.11,696.01) scale(1.0300,1)" font-size="14.0" font-weight="normal" font-style="normal" fill="#000">2</text>
<line x1="42.00" y1="648.60" x2="47.80" y2="648.60" stroke="#2e2e2e" stroke-width="1.0" />
<text transform="translate(32.80,653.61) scale(1.0300,1)" font-size="14.0" font-weight="normal" font-style="normal" fill="#000">4</text>
<line x1="42.00" y1="606.20" x2="47.80" y2="606.20" stroke="#2e2e2e" stroke-width="1.0" />
<text transform="translate(33.01,611.21) scale(1.0300,1)" font-size="14.0" font-weight="normal" font-style="normal" fill="#000">6</text>
<line x1="42.00" y1="563.80" x2="47.80" y2="563.80" stroke="#2e2e2e" stroke-width="1.0" />
<text transform="translate(33.01,568.81) scale(1.0300,1)" font-size="14.0" font-weight="normal" font-style="normal" fill="#000">8</text>
<line x1="47.80" y1="733.40" x2="47.80" y2="739.40" stroke="#2e2e2e" stroke-width="1.0" />
<text transform="translate(44.30,751.90) scale(1.0000,1)" font-size="12.6" font-weight="normal" font-style="normal" fill="#000">0</text>
<line x1="69.84" y1="733.40" x2="69.84" y2="739.40" stroke="#2e2e2e" stroke-width="1.0" />
<text transform="translate(66.35,751.90) scale(1.0000,1)" font-size="12.6" font-weight="normal" font-style="normal" fill="#000">5</text>
<line x1="91.88" y1="733.40" x2="91.88" y2="739.40" stroke="#2e2e2e" stroke-width="1.0" />
<text transform="translate(84.64,751.90) scale(1.0000,1)" font-size="12.6" font-weight="normal" font-style="normal" fill="#000">10</text>
<line x1="113.92" y1="733.40" x2="113.92" y2="739.40" stroke="#2e2e2e" stroke-width="1.0" />
<text transform="translate(106.70,751.90) scale(1.0000,1)" font-size="12.6" font-weight="normal" font-style="normal" fill="#000">15</text>
<line x1="135.96" y1="733.40" x2="135.96" y2="739.40" stroke="#2e2e2e" stroke-width="1.0" />
<text transform="translate(128.88,751.90) scale(1.0000,1)" font-size="12.6" font-weight="normal" font-style="normal" fill="#000">20</text>
<line x1="158.00" y1="733.40" x2="158.00" y2="739.40" stroke="#2e2e2e" stroke-width="1.0" />
<text transform="translate(150.94,751.90) scale(1.0000,1)" font-size="12.6" font-weight="normal" font-style="normal" fill="#000">25</text>
<line x1="180.04" y1="733.40" x2="180.04" y2="739.40" stroke="#2e2e2e" stroke-width="1.0" />
<text transform="translate(173.04,751.90) scale(1.0000,1)" font-size="12.6" font-weight="normal" font-style="normal" fill="#000">30</text>
<line x1="202.08" y1="733.40" x2="202.08" y2="739.40" stroke="#2e2e2e" stroke-width="1.0" />
<text transform="translate(195.10,751.90) scale(1.0000,1)" font-size="12.6" font-weight="normal" font-style="normal" fill="#000">35</text>
<line x1="224.12" y1="733.40" x2="224.12" y2="739.40" stroke="#2e2e2e" stroke-width="1.0" />
<text transform="translate(217.21,751.90) scale(1.0000,1)" font-size="12.6" font-weight="normal" font-style="normal" fill="#000">40</text>
<line x1="246.16" y1="733.40" x2="246.16" y2="739.40" stroke="#2e2e2e" stroke-width="1.0" />
<text transform="translate(239.27,751.90) scale(1.0000,1)" font-size="12.6" font-weight="normal" font-style="normal" fill="#000">45</text>
<polyline points="47.80,615.20 48.82,615.44 49.84,615.78 50.86,616.09 51.88,616.11 52.90,616.16 53.92,616.47 54.94,616.71 55.96,617.23 56.98,617.57 58.00,617.84 59.02,618.08 60.04,618.38 61.06,618.40 62.08,618.66 63.10,618.78 64.11,619.30 65.11,619.28 66.12,619.74 67.12,619.73 68.13,620.12 69.13,620.28 70.14,620.49 71.14,620.93 72.15,620.88 73.16,620.95 74.16,621.52 75.17,621.75 76.17,621.76 77.18,622.31 78.18,622.72 79.19,622.63 80.19,622.83 81.20,622.89 82.20,623.10 83.20,623.47 84.20,623.56 85.20,623.96 86.20,623.97 87.20,624.12 88.20,624.63 89.20,624.81 90.20,625.02 91.20,625.32 92.20,625.53 93.20,625.70 94.20,625.72 95.20,626.16 96.20,626.64 97.20,627.02 98.20,627.18 99.20,627.21 100.21,627.17 101.21,627.34 102.22,627.46 103.22,627.28 104.23,627.26 105.23,627.35 106.24,627.50 107.24,627.77 108.25,627.80 109.26,627.62 110.26,627.93 111.27,627.96 112.27,628.04 113.28,627.97 114.28,628.06 115.29,628.13 116.29,628.39 117.30,628.24 118.31,628.40 119.31,628.34 120.32,628.60 121.33,628.45 122.34,628.51 123.34,628.61 124.35,628.85 125.36,628.73 126.37,628.89 127.37,628.89 128.38,628.95 129.39,629.12 130.40,629.49 131.40,629.50 132.41,629.78 133.42,629.58 134.43,629.87 135.43,629.79 136.44,629.69 137.45,629.93 138.46,630.19 139.46,629.93 140.47,629.93 141.48,630.21 142.49,630.19 143.49,630.16 144.50,630.05 145.52,630.00 146.55,630.28 147.57,630.65 148.59,630.89 149.61,630.80 150.64,630.53 151.66,630.53 152.68,630.78 153.70,630.97 154.73,631.01 155.75,630.84 156.77,630.90 157.79,630.93 158.82,631.04 159.84,630.94 160.86,631.24 161.88,631.41 162.91,631.17 163.93,631.10 164.95,631.37 165.97,631.25 167.00,631.52 168.02,631.49 169.04,631.58 170.06,631.66 171.09,631.47 172.11,631.41 173.13,631.38 174.15,631.59 175.18,631.74 176.20,631.57 177.21,631.86 178.21,631.83 179.22,631.74 180.22,631.80 181.23,632.13 182.23,632.14 183.24,632.20 184.24,632.40 185.25,632.56 186.26,632.58 187.26,632.43 188.27,632.45 189.27,632.64 190.28,632.72 191.28,632.68 192.29,632.56 193.29,632.52 194.30,632.70 195.32,632.69 196.34,632.41 197.35,632.59 198.37,632.80 199.39,632.87 200.41,632.96 201.42,633.02 202.44,632.87 203.46,632.91 204.48,632.72 205.49,632.47 206.51,632.45 207.53,632.42 208.55,632.71 209.56,632.76 210.58,632.72 211.60,632.73 212.62,632.49 213.64,632.55 214.65,632.67 215.67,632.59 216.69,632.47 217.71,632.47 218.72,632.44 219.74,632.59 220.76,632.42 221.78,632.29 222.79,632.32 223.81,632.53 224.83,632.69 225.85,632.73 226.86,632.90 227.88,632.71 228.90,632.43 229.92,632.49 230.94,632.51 231.95,632.38 232.97,632.55 233.99,632.49 235.01,632.41 236.02,632.40 237.04,632.70 238.06,632.41 239.08,632.42 240.09,632.38 241.11,632.32 242.13,632.40 243.15,632.34 244.16,632.65 245.18,632.63 246.20,632.60" fill="none" stroke="#c2c200" stroke-width="2.5" stroke-linejoin="round" stroke-linecap="butt"/>
<polyline points="47.80,711.60 48.31,711.66 48.82,711.71 49.33,711.77 49.84,711.83 50.35,711.88 50.86,711.94 51.37,712.00 51.88,712.05 52.39,712.11 52.90,712.16 53.41,712.22 53.92,712.27 54.43,712.32 54.94,712.37 55.45,712.42 55.96,712.47 56.47,712.52 56.98,712.57 57.49,712.62 58.00,712.66 58.51,712.70 59.02,712.74 59.53,712.78 60.04,712.82 60.55,712.86 61.06,712.89 61.57,712.92 62.08,712.95 62.59,712.98 63.10,713.00 63.61,713.02 64.11,713.05 64.62,713.07 65.12,713.09 65.63,713.11 66.13,713.13 66.64,713.15 67.14,713.18 67.65,713.20 68.15,713.22 68.66,713.24 69.17,713.26 69.67,713.28 70.18,713.30 70.68,713.32 71.19,713.34 71.69,713.36 72.20,713.38 72.70,713.39 73.21,713.41 73.72,713.43 74.22,713.45 74.73,713.47 75.23,713.48 75.74,713.50 76.24,713.52 76.75,713.53 77.25,713.55 77.76,713.57 78.26,713.58 78.77,713.60 79.28,713.61 79.78,713.63 80.29,713.64 80.79,713.66 81.30,713.67 81.80,713.69 82.31,713.70 82.81,713.71 83.32,713.73 83.82,713.74 84.33,713.75 84.84,713.77 85.34,713.78 85.85,713.79 86.35,713.80 86.86,713.81 87.36,713.82 87.87,713.83 88.37,713.84 88.88,713.85 89.38,713.86 89.89,713.87 90.40,713.88 90.90,713.89 91.41,713.90 91.91,713.91 92.42,713.92 92.92,713.93 93.43,713.93 93.93,713.94 94.44,713.95 94.95,713.95 95.45,713.96 95.96,713.96 96.46,713.97 96.97,713.98 97.47,713.98 97.98,713.98 98.48,713.99 98.99,713.99 99.49,714.00 100.00,714.00 100.50,714.00 101.00,714.01 101.50,714.01 102.00,714.01 102.50,714.02 103.00,714.02 103.50,714.02 104.00,714.02 104.50,714.03 105.00,714.03 105.51,714.03 106.01,714.04 106.51,714.04 107.01,714.04 107.51,714.04 108.01,714.05 108.51,714.05 109.01,714.05 109.51,714.06 110.01,714.06 110.51,714.06 111.01,714.06 111.51,714.07 112.01,714.07 112.51,714.07 113.01,714.07 113.51,714.08 114.01,714.08 114.51,714.08 115.01,714.08 115.52,714.09 116.02,714.09 116.52,714.09 117.02,714.09 117.52,714.10 118.02,714.10 118.52,714.10 119.02,714.10 119.52,714.11 120.02,714.11 120.52,714.11 121.02,714.11 121.52,714.12 122.02,714.12 122.52,714.12 123.02,714.12 123.52,714.13 124.02,714.13 124.52,714.13 125.02,714.13 125.53,714.14 126.03,714.14 126.53,714.14 127.03,714.14 127.53,714.14 128.03,714.15 128.53,714.15 129.03,714.15 129.53,714.15 130.03,714.15 130.53,714.16 131.03,714.16 131.53,714.16 132.03,714.16 132.53,714.17 133.03,714.17 133.53,714.17 134.03,714.17 134.53,714.17 135.03,714.18 135.54,714.18 136.04,714.18 136.54,714.18 137.04,714.18 137.54,714.18 138.04,714.19 138.54,714.19 139.04,714.19 139.54,714.19 140.04,714.19 140.54,714.20 141.04,714.20 141.54,714.20 142.04,714.20 142.54,714.20 143.04,714.20 143.54,714.21 144.04,714.21 144.54,714.21 145.04,714.21 145.55,714.21 146.05,714.21 146.55,714.22 147.05,714.22 147.55,714.22 148.05,714.22 148.55,714.22 149.05,714.22 149.55,714.22 150.05,714.23 150.55,714.23 151.05,714.23 151.55,714.23 152.05,714.23 152.55,714.23 153.05,714.23 153.55,714.24 154.05,714.24 154.55,714.24 155.05,714.24 155.56,714.24 156.06,714.24 156.56,714.24 157.06,714.25 157.56,714.25 158.06,714.25 158.56,714.25 159.06,714.25 159.56,714.25 160.06,714.25 160.56,714.25 161.06,714.26 161.56,714.26 162.06,714.26 162.56,714.26 163.06,714.26 163.56,714.26 164.06,714.26 164.56,714.26 165.06,714.26 165.57,714.26 166.07,714.27 166.57,714.27 167.07,714.27 167.57,714.27 168.07,714.27 168.57,714.27 169.07,714.27 169.57,714.27 170.07,714.27 170.57,714.27 171.07,714.28 171.57,714.28 172.07,714.28 172.57,714.28 173.07,714.28 173.57,714.28 174.07,714.28 174.57,714.28 175.07,714.28 175.58,714.28 176.08,714.28 176.58,714.28 177.08,714.28 177.58,714.28 178.08,714.29 178.58,714.29 179.08,714.29 179.58,714.29 180.08,714.29 180.58,714.29 181.08,714.29 181.58,714.29 182.08,714.29 182.58,714.29 183.08,714.29 183.58,714.29 184.08,714.29 184.58,714.29 185.08,714.29 185.59,714.29 186.09,714.29 186.59,714.29 187.09,714.29 187.59,714.30 188.09,714.30 188.59,714.30 189.09,714.30 189.59,714.30 190.09,714.30 190.59,714.30 191.09,714.30 191.59,714.30 192.09,714.30 192.59,714.30 193.09,714.30 193.59,714.30 194.09,714.30 194.59,714.30 195.09,714.30 195.60,714.30 196.10,714.30 196.60,714.30 197.10,714.30 197.60,714.30 198.10,714.30 198.60,714.30 199.10,714.30 199.60,714.30 200.10,714.30 200.60,714.30 201.14,713.50 201.68,711.39 202.22,708.37 202.76,704.87 203.30,701.30 203.90,696.22 204.50,690.09 205.10,685.00 205.70,681.14 206.30,677.86 206.90,676.00 207.40,675.33 207.90,674.76 208.40,674.29 208.90,673.89 209.40,673.55 209.90,673.26 210.40,673.00 210.90,672.76 211.40,672.52 211.90,672.27 212.40,672.00 212.90,671.71 213.40,671.43 213.90,671.15 214.40,670.88 214.90,670.61 215.40,670.35 215.90,670.10 216.40,669.85 216.90,669.61 217.40,669.37 217.90,669.15 218.40,668.93 218.90,668.72 219.40,668.52 219.90,668.32 220.40,668.14 220.90,667.96 221.40,667.80 221.91,667.64 222.42,667.49 222.92,667.34 223.43,667.19 223.94,667.06 224.45,666.92 224.96,666.79 225.46,666.66 225.97,666.54 226.48,666.42 226.99,666.31 227.50,666.19 228.00,666.08 228.51,665.97 229.02,665.86 229.53,665.75 230.04,665.65 230.54,665.54 231.05,665.44 231.56,665.33 232.07,665.23 232.58,665.12 233.08,665.02 233.59,664.91 234.10,664.80 234.60,664.69 235.11,664.58 235.61,664.48 236.12,664.37 236.62,664.27 237.12,664.16 237.63,664.06 238.13,663.95 238.64,663.85 239.14,663.75 239.65,663.65 240.15,663.55 240.65,663.45 241.16,663.35 241.66,663.25 242.17,663.15 242.67,663.05 243.17,662.96 243.68,662.86 244.18,662.77 244.69,662.68 245.19,662.58 245.70,662.49 246.20,662.40" fill="none" stroke="#ff7777" stroke-width="2.5" stroke-linejoin="round" stroke-linecap="butt"/>
<polyline points="47.80,701.80 48.32,701.96 48.84,702.12 49.36,702.28 49.88,702.45 50.41,702.61 50.93,702.77 51.45,702.92 51.97,703.07 52.49,703.21 53.01,703.34 53.53,703.47 54.05,703.58 54.57,703.69 55.09,703.78 55.62,703.85 56.14,703.92 56.66,703.96 57.18,703.99 57.70,704.00 58.20,704.00 58.70,704.00 59.20,703.99 59.70,703.98 60.20,703.97 60.70,703.96 61.20,703.95 61.70,703.93 62.20,703.92 62.70,703.90 63.20,703.88 63.70,703.85 64.20,703.83 64.70,703.81 65.20,703.78 65.70,703.75 66.20,703.73 66.70,703.70 67.20,703.67 67.70,703.63 68.20,703.60 68.70,703.57 69.20,703.54 69.70,703.50 70.20,703.47 70.70,703.43 71.20,703.40 71.70,703.36 72.20,703.32 72.70,703.29 73.20,703.25 73.70,703.21 74.20,703.18 74.70,703.14 75.20,703.10 75.70,703.07 76.20,703.03 76.70,702.99 77.20,702.96 77.70,702.92 78.20,702.89 78.70,702.86 79.20,702.82 79.70,702.79 80.20,702.76 80.70,702.73 81.20,702.70 81.70,702.67 82.20,702.64 82.70,702.61 83.20,702.58 83.70,702.54 84.20,702.51 84.70,702.47 85.20,702.43 85.70,702.40 86.20,702.36 86.70,702.32 87.20,702.28 87.70,702.24 88.20,702.20 88.70,702.16 89.20,702.12 89.70,702.08 90.20,702.04 90.70,702.01 91.20,701.97 91.70,701.93 92.20,701.89 92.70,701.85 93.20,701.81 93.70,701.78 94.20,701.74 94.70,701.70 95.20,701.67 95.70,701.64 96.20,701.60 96.70,701.57 97.20,701.54 97.70,701.51 98.20,701.49 98.70,701.46 99.20,701.44 99.70,701.42 100.20,701.39 100.70,701.38 101.20,701.36 101.70,701.34 102.20,701.33 102.70,701.32 103.20,701.31 103.70,701.31 104.20,701.30 104.70,701.30 105.20,701.30 105.71,701.31 106.21,701.32 106.72,701.33 107.22,701.35 107.73,701.37 108.23,701.39 108.74,701.41 109.24,701.44 109.75,701.47 110.25,701.51 110.76,701.54 111.26,701.58 111.77,701.62 112.27,701.67 112.77,701.71 113.28,701.76 113.78,701.81 114.29,701.85 114.79,701.91 115.30,701.96 115.80,702.01 116.31,702.06 116.81,702.12 117.32,702.17 117.82,702.23 118.33,702.28 118.83,702.34 119.33,702.39 119.84,702.45 120.34,702.51 120.85,702.56 121.35,702.62 121.86,702.67 122.36,702.72 122.87,702.77 123.37,702.83 123.88,702.88 124.38,702.92 124.89,702.97 125.39,703.02 125.90,703.06 126.40,703.10 126.90,703.14 127.41,703.18 127.91,703.22 128.41,703.26 128.91,703.31 129.42,703.35 129.92,703.39 130.42,703.43 130.93,703.47 131.43,703.52 131.93,703.56 132.43,703.60 132.94,703.64 133.44,703.68 133.94,703.73 134.44,703.77 134.95,703.81 135.45,703.85 135.95,703.89 136.46,703.93 136.96,703.97 137.46,704.01 137.96,704.05 138.47,704.09 138.97,704.13 139.47,704.16 139.97,704.20 140.48,704.24 140.98,704.27 141.48,704.31 141.99,704.34 142.49,704.38 142.99,704.41 143.49,704.44 144.00,704.47 144.50,704.50 145.01,704.53 145.51,704.56 146.02,704.59 146.52,704.62 147.03,704.65 147.54,704.69 148.04,704.72 148.55,704.75 149.05,704.78 149.56,704.81 150.06,704.84 150.57,704.88 151.08,704.91 151.58,704.94 152.09,704.97 152.59,705.00 153.10,705.02 153.61,705.05 154.11,705.08 154.62,705.10 155.12,705.13 155.63,705.15 156.14,705.17 156.64,705.19 157.15,705.21 157.65,705.23 158.16,705.25 158.66,705.26 159.17,705.27 159.68,705.28 160.18,705.29 160.69,705.30 161.19,705.30 161.70,705.30 162.50,704.00 163.00,704.00 163.51,704.00 164.01,704.00 164.51,704.01 165.01,704.01 165.52,704.01 166.02,704.02 166.52,704.02 167.02,704.02 167.53,704.03 168.03,704.04 168.53,704.04 169.04,704.05 169.54,704.06 170.04,704.06 170.54,704.07 171.05,704.08 171.55,704.09 172.05,704.10 172.55,704.11 173.06,704.12 173.56,704.13 174.06,704.14 174.56,704.15 175.07,704.16 175.57,704.17 176.07,704.18 176.58,704.19 177.08,704.20 177.58,704.22 178.08,704.23 178.59,704.24 179.09,704.25 179.59,704.26 180.09,704.28 180.60,704.29 181.10,704.30 181.60,704.31 182.11,704.32 182.61,704.34 183.11,704.35 183.61,704.36 184.12,704.37 184.62,704.38 185.12,704.40 185.62,704.41 186.13,704.42 186.63,704.43 187.13,704.44 187.64,704.45 188.14,704.46 188.64,704.47 189.14,704.48 189.65,704.49 190.15,704.50 190.65,704.51 191.15,704.52 191.66,704.53 192.16,704.54 192.66,704.54 193.16,704.55 193.67,704.56 194.17,704.56 194.67,704.57 195.18,704.58 195.68,704.58 196.18,704.58 196.68,704.59 197.19,704.59 197.69,704.59 198.19,704.60 198.69,704.60 199.20,704.60 199.70,704.60 200.25,701.32 200.80,695.00 201.50,685.00 202.00,682.19 202.50,680.29 203.00,679.00 203.53,677.99 204.05,677.19 204.57,676.55 205.10,676.00 205.63,675.48 206.16,674.99 206.69,674.53 207.21,674.12 207.74,673.77 208.27,673.49 208.80,673.30 209.30,673.17 209.81,673.04 210.31,672.93 210.82,672.82 211.32,672.71 211.82,672.62 212.33,672.53 212.83,672.44 213.34,672.37 213.84,672.29 214.34,672.22 214.85,672.16 215.35,672.10 215.86,672.04 216.36,671.99 216.86,671.93 217.37,671.88 217.87,671.83 218.38,671.79 218.88,671.74 219.38,671.69 219.89,671.64 220.39,671.60 220.90,671.55 221.40,671.50 221.91,671.45 222.41,671.40 222.92,671.35 223.42,671.30 223.93,671.25 224.44,671.20 224.94,671.15 225.45,671.10 225.96,671.05 226.46,671.01 226.97,670.96 227.47,670.91 227.98,670.87 228.49,670.82 228.99,670.77 229.50,670.73 230.00,670.68 230.51,670.64 231.02,670.60 231.52,670.55 232.03,670.51 232.53,670.47 233.04,670.43 233.55,670.39 234.05,670.35 234.56,670.31 235.07,670.28 235.57,670.24 236.08,670.20 236.58,670.17 237.09,670.13 237.60,670.10 238.10,670.07 238.61,670.04 239.11,670.01 239.62,669.98 240.13,669.95 240.63,669.92 241.14,669.90 241.64,669.87 242.15,669.85 242.66,669.82 243.16,669.80 243.67,669.78 244.18,669.76 244.68,669.75 245.19,669.73 245.69,669.71 246.20,669.70" fill="none" stroke="#cc0000" stroke-width="2.5" stroke-linejoin="round" stroke-linecap="butt"/>
<polyline points="47.80,712.00 48.31,712.15 48.83,712.29 49.34,712.43 49.86,712.56 50.37,712.70 50.89,712.82 51.40,712.94 51.91,713.06 52.43,713.17 52.94,713.27 53.46,713.37 53.97,713.45 54.49,713.53 55.00,713.60 55.51,713.66 56.01,713.72 56.52,713.78 57.02,713.84 57.53,713.89 58.04,713.94 58.54,713.99 59.05,714.03 59.56,714.07 60.06,714.11 60.57,714.15 61.08,714.19 61.58,714.22 62.09,714.25 62.59,714.28 63.10,714.30 63.60,714.32 64.11,714.34 64.61,714.37 65.11,714.39 65.61,714.41 66.12,714.43 66.62,714.45 67.12,714.47 67.62,714.49 68.13,714.51 68.63,714.53 69.13,714.55 69.64,714.57 70.14,714.59 70.64,714.60 71.14,714.62 71.65,714.64 72.15,714.65 72.65,714.67 73.16,714.68 73.66,714.69 74.16,714.71 74.66,714.72 75.17,714.73 75.67,714.74 76.17,714.75 76.67,714.76 77.18,714.77 77.68,714.78 78.18,714.78 78.69,714.79 79.19,714.79 79.69,714.80 80.19,714.80 80.70,714.80 81.20,714.80 81.70,714.80 82.20,714.80 82.71,714.80 83.21,714.80 83.71,714.80 84.21,714.80 84.71,714.80 85.22,714.80 85.72,714.80 86.22,714.80 86.72,714.80 87.23,714.80 87.73,714.80 88.23,714.80 88.73,714.80 89.23,714.80 89.74,714.80 90.24,714.80 90.74,714.80 91.24,714.80 91.74,714.80 92.25,714.80 92.75,714.80 93.25,714.80 93.75,714.80 94.26,714.80 94.76,714.80 95.26,714.80 95.76,714.80 96.26,714.80 96.77,714.80 97.27,714.80 97.77,714.80 98.27,714.80 98.77,714.80 99.28,714.80 99.78,714.80 100.28,714.80 100.78,714.80 101.28,714.80 101.79,714.80 102.29,714.80 102.79,714.80 103.29,714.80 103.80,714.80 104.30,714.80 104.80,714.80 105.30,714.80 105.80,714.80 106.31,714.79 106.81,714.79 107.31,714.79 107.81,714.79 108.31,714.79 108.82,714.79 109.32,714.79 109.82,714.79 110.32,714.79 110.83,714.79 111.33,714.79 111.83,714.79 112.33,714.79 112.83,714.79 113.34,714.79 113.84,714.79 114.34,714.79 114.84,714.79 115.34,714.79 115.85,714.79 116.35,714.79 116.85,714.79 117.35,714.79 117.85,714.79 118.36,714.79 118.86,714.78 119.36,714.78 119.86,714.78 120.37,714.78 120.87,714.78 121.37,714.78 121.87,714.78 122.37,714.78 122.88,714.78 123.38,714.78 123.88,714.78 124.38,714.78 124.88,714.78 125.39,714.78 125.89,714.78 126.39,714.77 126.89,714.77 127.39,714.77 127.90,714.77 128.40,714.77 128.90,714.77 129.40,714.77 129.91,714.77 130.41,714.77 130.91,714.77 131.41,714.77 131.91,714.76 132.42,714.76 132.92,714.76 133.42,714.76 133.92,714.76 134.42,714.76 134.93,714.76 135.43,714.76 135.93,714.76 136.43,714.76 136.94,714.75 137.44,714.75 137.94,714.75 138.44,714.75 138.94,714.75 139.45,714.75 139.95,714.75 140.45,714.75 140.95,714.74 141.45,714.74 141.96,714.74 142.46,714.74 142.96,714.74 143.46,714.74 143.96,714.74 144.47,714.73 144.97,714.73 145.47,714.73 145.97,714.73 146.48,714.73 146.98,714.73 147.48,714.72 147.98,714.72 148.48,714.72 148.99,714.72 149.49,714.72 149.99,714.72 150.49,714.71 150.99,714.71 151.50,714.71 152.00,714.71 152.50,714.71 153.00,714.71 153.51,714.70 154.01,714.70 154.51,714.70 155.01,714.70 155.51,714.70 156.02,714.69 156.52,714.69 157.02,714.69 157.52,714.69 158.02,714.69 158.53,714.68 159.03,714.68 159.53,714.68 160.03,714.68 160.53,714.67 161.04,714.67 161.54,714.67 162.04,714.67 162.54,714.67 163.05,714.66 163.55,714.66 164.05,714.66 164.55,714.66 165.05,714.65 165.56,714.65 166.06,714.65 166.56,714.64 167.06,714.64 167.56,714.64 168.07,714.64 168.57,714.63 169.07,714.63 169.57,714.63 170.07,714.63 170.58,714.62 171.08,714.62 171.58,714.62 172.08,714.61 172.59,714.61 173.09,714.61 173.59,714.61 174.09,714.60 174.59,714.60 175.10,714.60 175.60,714.59 176.10,714.59 176.60,714.59 177.10,714.58 177.61,714.58 178.11,714.58 178.61,714.57 179.11,714.57 179.62,714.57 180.12,714.56 180.62,714.56 181.12,714.56 181.62,714.55 182.13,714.55 182.63,714.55 183.13,714.54 183.63,714.54 184.13,714.53 184.64,714.53 185.14,714.53 185.64,714.52 186.14,714.52 186.64,714.51 187.15,714.51 187.65,714.51 188.15,714.50 188.65,714.50 189.16,714.49 189.66,714.49 190.16,714.49 190.66,714.48 191.16,714.48 191.67,714.47 192.17,714.47 192.67,714.47 193.17,714.46 193.67,714.46 194.18,714.45 194.68,714.45 195.18,714.44 195.68,714.44 196.19,714.43 196.69,714.43 197.19,714.42 197.69,714.42 198.19,714.41 198.70,714.41 199.20,714.40 199.70,714.40 200.21,714.14 200.73,713.43 201.24,712.37 201.76,711.07 202.27,709.62 202.79,708.13 203.30,706.70 203.81,705.08 204.33,703.10 204.84,700.92 205.36,698.75 205.87,696.74 206.39,695.10 206.90,694.00 207.43,693.24 207.96,692.54 208.49,691.92 209.01,691.39 209.54,690.97 210.07,690.67 210.60,690.50 211.11,690.41 211.63,690.34 212.14,690.27 212.66,690.20 213.17,690.15 213.69,690.10 214.20,690.06 214.71,690.02 215.23,689.98 215.74,689.95 216.26,689.92 216.77,689.89 217.29,689.86 217.80,689.84 218.31,689.81 218.83,689.78 219.34,689.75 219.86,689.72 220.37,689.68 220.89,689.64 221.40,689.60 221.91,689.55 222.41,689.50 222.92,689.45 223.42,689.40 223.93,689.35 224.43,689.30 224.94,689.24 225.44,689.19 225.95,689.14 226.46,689.08 226.96,689.03 227.47,688.98 227.97,688.93 228.48,688.88 228.98,688.83 229.49,688.78 229.99,688.74 230.50,688.70 231.01,688.66 231.51,688.62 232.02,688.58 232.53,688.54 233.03,688.50 233.54,688.47 234.05,688.43 234.55,688.39 235.06,688.35 235.56,688.32 236.07,688.28 236.58,688.25 237.08,688.21 237.59,688.18 238.10,688.14 238.60,688.11 239.11,688.08 239.62,688.05 240.12,688.01 240.63,687.98 241.14,687.95 241.64,687.92 242.15,687.90 242.65,687.87 243.16,687.84 243.67,687.82 244.17,687.79 244.68,687.77 245.19,687.74 245.69,687.72 246.20,687.70" fill="none" stroke="#000000" stroke-width="2.5" stroke-linejoin="round" stroke-linecap="butt"/>
<text transform="translate(25.00,705.01) rotate(-90) scale(0.9980,1)" font-size="16" font-weight="normal" fill="#000">NPN F.I. (norm.)</text>
<text transform="translate(114.99,770.50) scale(0.9848,1)" font-size="14" font-weight="normal" font-style="normal" fill="#000">Time (min)</text>
<text transform="translate(52.42,581.50) scale(1.0165,1)" font-size="15.5" font-weight="bold" font-style="italic" fill="#000">E. coli</text>
<text transform="translate(52.26,603.10) scale(1.0196,1)" font-size="15.5" font-weight="bold" font-style="normal" fill="#000">pH 7.4</text>
<text transform="translate(180.51,579.90) scale(1.0395,1)" font-size="11.5" font-weight="bold" font-style="normal" fill="#000">Colistin</text>
<line x1="201.70" y1="583.00" x2="201.70" y2="597.50" stroke="#111" stroke-width="1.5" />
<path d="M198.90,596.40 L204.70,596.40 L201.80,603.60 Z" fill="#111"/>
<line x1="202.00" y1="605.50" x2="202.00" y2="733.00" stroke="#222" stroke-width="1.5" stroke-dasharray="1.5,2.9"/>
<line x1="250.90" y1="569.30" x2="266.50" y2="569.30" stroke="#c2c200" stroke-width="2.2" />
<line x1="250.90" y1="593.70" x2="266.50" y2="593.70" stroke="#000000" stroke-width="2.2" />
<line x1="250.90" y1="615.90" x2="266.50" y2="615.90" stroke="#ff7777" stroke-width="2.2" />
<line x1="250.90" y1="638.70" x2="266.50" y2="638.70" stroke="#cc0000" stroke-width="2.2" />
<text transform="translate(274.46,573.50) scale(1.0081,1)" font-size="13.8" font-weight="normal" font-style="normal" fill="#000">Pos Ctrl</text>
<text transform="translate(274.46,597.90) scale(1.0081,1)" font-size="13.8" font-weight="normal" font-style="normal" fill="#000">Neg Ctrl</text>
<text transform="translate(274.89,620.20) scale(1.0081,1)" font-size="13.8" font-weight="normal" font-style="normal" fill="#000">CAP 10 min</text>
<text transform="translate(274.89,643.20) scale(1.0081,1)" font-size="13.8" font-weight="normal" font-style="normal" fill="#000">CAP 20 min</text>
<rect x="383.60" y="563.60" width="198.10" height="169.80" fill="none" stroke="#2e2e2e" stroke-width="1"/>
<line x1="377.80" y1="733.40" x2="383.60" y2="733.40" stroke="#2e2e2e" stroke-width="1.0" />
<text transform="translate(368.24,738.41) scale(1.0300,1)" font-size="14.0" font-weight="normal" font-style="normal" fill="#000">0</text>
<line x1="377.80" y1="691.00" x2="383.60" y2="691.00" stroke="#2e2e2e" stroke-width="1.0" />
<text transform="translate(368.41,696.01) scale(1.0300,1)" font-size="14.0" font-weight="normal" font-style="normal" fill="#000">2</text>
<line x1="377.80" y1="648.60" x2="383.60" y2="648.60" stroke="#2e2e2e" stroke-width="1.0" />
<text transform="translate(368.10,653.61) scale(1.0300,1)" font-size="14.0" font-weight="normal" font-style="normal" fill="#000">4</text>
<line x1="377.80" y1="606.20" x2="383.60" y2="606.20" stroke="#2e2e2e" stroke-width="1.0" />
<text transform="translate(368.31,611.21) scale(1.0300,1)" font-size="14.0" font-weight="normal" font-style="normal" fill="#000">6</text>
<line x1="377.80" y1="563.80" x2="383.60" y2="563.80" stroke="#2e2e2e" stroke-width="1.0" />
<text transform="translate(368.31,568.81) scale(1.0300,1)" font-size="14.0" font-weight="normal" font-style="normal" fill="#000">8</text>
<line x1="383.50" y1="733.40" x2="383.50" y2="739.40" stroke="#2e2e2e" stroke-width="1.0" />
<text transform="translate(380.00,751.90) scale(1.0000,1)" font-size="12.6" font-weight="normal" font-style="normal" fill="#000">0</text>
<line x1="405.50" y1="733.40" x2="405.50" y2="739.40" stroke="#2e2e2e" stroke-width="1.0" />
<text transform="translate(402.01,751.90) scale(1.0000,1)" font-size="12.6" font-weight="normal" font-style="normal" fill="#000">5</text>
<line x1="427.50" y1="733.40" x2="427.50" y2="739.40" stroke="#2e2e2e" stroke-width="1.0" />
<text transform="translate(420.26,751.90) scale(1.0000,1)" font-size="12.6" font-weight="normal" font-style="normal" fill="#000">10</text>
<line x1="449.50" y1="733.40" x2="449.50" y2="739.40" stroke="#2e2e2e" stroke-width="1.0" />
<text transform="translate(442.28,751.90) scale(1.0000,1)" font-size="12.6" font-weight="normal" font-style="normal" fill="#000">15</text>
<line x1="471.50" y1="733.40" x2="471.50" y2="739.40" stroke="#2e2e2e" stroke-width="1.0" />
<text transform="translate(464.42,751.90) scale(1.0000,1)" font-size="12.6" font-weight="normal" font-style="normal" fill="#000">20</text>
<line x1="493.50" y1="733.40" x2="493.50" y2="739.40" stroke="#2e2e2e" stroke-width="1.0" />
<text transform="translate(486.44,751.90) scale(1.0000,1)" font-size="12.6" font-weight="normal" font-style="normal" fill="#000">25</text>
<line x1="515.50" y1="733.40" x2="515.50" y2="739.40" stroke="#2e2e2e" stroke-width="1.0" />
<text transform="translate(508.50,751.90) scale(1.0000,1)" font-size="12.6" font-weight="normal" font-style="normal" fill="#000">30</text>
<line x1="537.50" y1="733.40" x2="537.50" y2="739.40" stroke="#2e2e2e" stroke-width="1.0" />
<text transform="translate(530.52,751.90) scale(1.0000,1)" font-size="12.6" font-weight="normal" font-style="normal" fill="#000">35</text>
<line x1="559.50" y1="733.40" x2="559.50" y2="739.40" stroke="#2e2e2e" stroke-width="1.0" />
<text transform="translate(552.59,751.90) scale(1.0000,1)" font-size="12.6" font-weight="normal" font-style="normal" fill="#000">40</text>
<line x1="581.50" y1="733.40" x2="581.50" y2="739.40" stroke="#2e2e2e" stroke-width="1.0" />
<text transform="translate(574.61,751.90) scale(1.0000,1)" font-size="12.6" font-weight="normal" font-style="normal" fill="#000">45</text>
<polyline points="383.60,617.60 384.61,617.95 385.62,618.60 386.63,619.20 387.64,619.84 388.65,620.03 389.66,620.37 390.67,620.71 391.68,621.17 392.69,621.94 393.70,622.23 394.74,622.57 395.79,622.66 396.83,622.84 397.88,623.12 398.92,623.61 399.97,623.85 401.01,623.71 402.06,623.88 403.10,623.98 404.14,624.55 405.19,624.95 406.23,625.26 407.28,625.54 408.32,625.75 409.37,626.08 410.41,626.26 411.46,626.13 412.50,626.49 413.54,626.52 414.58,626.76 415.62,626.86 416.66,626.89 417.69,626.94 418.73,627.07 419.77,627.14 420.81,627.12 421.85,627.60 422.89,627.93 423.93,628.31 424.97,628.42 426.01,628.47 427.04,628.67 428.08,628.49 429.12,628.77 430.16,628.86 431.20,628.81 432.24,628.82 433.29,629.05 434.33,629.07 435.38,629.25 436.42,629.49 437.47,629.55 438.51,629.47 439.56,629.68 440.60,629.69 441.64,629.74 442.69,629.79 443.73,629.96 444.78,629.93 445.82,630.31 446.87,630.75 447.91,630.72 448.96,630.95 450.00,631.25 451.04,630.89 452.08,630.76 453.12,631.10 454.16,631.34 455.19,631.39 456.23,631.16 457.27,631.19 458.31,631.51 459.35,631.73 460.39,631.84 461.43,631.56 462.47,631.81 463.51,631.69 464.54,631.85 465.58,631.62 466.62,632.00 467.66,632.03 468.70,632.15 469.72,631.91 470.74,632.02 471.76,632.08 472.77,632.13 473.79,632.03 474.81,632.21 475.83,632.10 476.85,632.01 477.87,631.90 478.89,632.15 479.91,631.98 480.93,631.95 481.94,631.85 482.96,632.15 483.98,632.29 485.00,632.38 486.01,632.12 487.02,632.21 488.03,632.21 489.03,632.07 490.04,631.93 491.05,632.45 492.06,632.24 493.07,632.22 494.08,632.20 495.09,632.39 496.09,632.19 497.10,632.31 498.11,632.33 499.12,632.62 500.13,632.31 501.14,632.32 502.14,632.43 503.15,632.78 504.16,632.73 505.17,632.67 506.18,632.76 507.19,632.59 508.20,632.34 509.20,632.47 510.21,632.80 511.22,632.90 512.23,632.68 513.24,632.80 514.25,632.98 515.26,632.74 516.26,632.79 517.27,632.69 518.28,632.57 519.29,632.52 520.30,632.45 521.31,632.50 522.31,632.35 523.32,632.48 524.33,632.37 525.34,632.71 526.35,632.83 527.36,632.54 528.37,632.84 529.37,632.67 530.38,632.75 531.39,632.84 532.40,632.77 533.40,632.72 534.40,632.79 535.41,632.66 536.41,633.03 537.41,632.81 538.41,633.11 539.41,632.94 540.42,632.90 541.42,632.94 542.42,632.75 543.42,632.71 544.42,632.84 545.43,632.97 546.43,633.32 547.43,633.61 548.43,633.22 549.43,633.30 550.44,633.11 551.44,633.41 552.44,633.31 553.44,633.60 554.44,633.58 555.45,633.32 556.45,633.11 557.45,633.13 558.45,633.53 559.46,633.35 560.46,633.44 561.46,633.45 562.46,633.44 563.46,633.73 564.47,633.55 565.47,633.76 566.47,633.86 567.47,634.10 568.47,634.00 569.48,634.19 570.48,634.02 571.48,634.02 572.48,634.05 573.48,634.21 574.49,634.35 575.49,633.98 576.49,633.77 577.49,633.90 578.49,634.15 579.50,634.15 580.50,634.01 581.50,634.10" fill="none" stroke="#c2c200" stroke-width="2.5" stroke-linejoin="round" stroke-linecap="butt"/>
<polyline points="383.60,689.00 384.11,688.96 384.61,688.92 385.12,688.88 385.63,688.85 386.14,688.81 386.64,688.77 387.15,688.73 387.66,688.70 388.16,688.66 388.67,688.62 389.18,688.59 389.68,688.55 390.19,688.51 390.70,688.48 391.21,688.44 391.71,688.40 392.22,688.37 392.73,688.33 393.23,688.30 393.74,688.26 394.25,688.23 394.75,688.19 395.26,688.16 395.77,688.12 396.28,688.09 396.78,688.06 397.29,688.02 397.80,687.99 398.30,687.96 398.81,687.92 399.32,687.89 399.82,687.86 400.33,687.82 400.84,687.79 401.35,687.76 401.85,687.73 402.36,687.70 402.87,687.66 403.37,687.63 403.88,687.60 404.39,687.57 404.89,687.54 405.40,687.51 405.91,687.48 406.42,687.45 406.92,687.42 407.43,687.39 407.94,687.36 408.44,687.33 408.95,687.30 409.46,687.27 409.96,687.24 410.47,687.21 410.98,687.18 411.49,687.16 411.99,687.13 412.50,687.10 413.01,687.07 413.51,687.05 414.02,687.02 414.52,686.99 415.03,686.97 415.53,686.94 416.04,686.92 416.54,686.89 417.05,686.87 417.55,686.85 418.06,686.82 418.56,686.80 419.07,686.78 419.58,686.76 420.08,686.73 420.59,686.71 421.09,686.69 421.60,686.67 422.10,686.64 422.61,686.62 423.11,686.60 423.62,686.58 424.12,686.55 424.63,686.53 425.14,686.51 425.64,686.48 426.15,686.46 426.65,686.44 427.16,686.41 427.66,686.39 428.17,686.36 428.67,686.34 429.18,686.31 429.68,686.28 430.19,686.26 430.69,686.23 431.20,686.20 431.71,686.17 432.22,686.14 432.72,686.11 433.23,686.08 433.74,686.04 434.25,686.01 434.76,685.98 435.26,685.94 435.77,685.91 436.28,685.87 436.79,685.83 437.30,685.80 437.81,685.76 438.31,685.72 438.82,685.68 439.33,685.65 439.84,685.61 440.35,685.57 440.85,685.53 441.36,685.49 441.87,685.45 442.38,685.42 442.89,685.38 443.39,685.34 443.90,685.30 444.41,685.27 444.92,685.23 445.43,685.19 445.94,685.16 446.44,685.12 446.95,685.09 447.46,685.06 447.97,685.02 448.48,684.99 448.98,684.96 449.49,684.93 450.00,684.90 450.51,684.87 451.01,684.84 451.52,684.82 452.02,684.79 452.53,684.76 453.03,684.74 453.54,684.71 454.04,684.68 454.55,684.66 455.05,684.63 455.56,684.61 456.06,684.58 456.57,684.56 457.08,684.54 457.58,684.51 458.09,684.49 458.59,684.47 459.10,684.44 459.60,684.42 460.11,684.40 460.61,684.37 461.12,684.35 461.62,684.33 462.13,684.30 462.64,684.28 463.14,684.26 463.65,684.24 464.15,684.21 464.66,684.19 465.16,684.17 465.67,684.14 466.17,684.12 466.68,684.10 467.18,684.07 467.69,684.05 468.19,684.02 468.70,684.00 469.21,683.98 469.72,683.95 470.23,683.93 470.74,683.90 471.25,683.87 471.76,683.85 472.27,683.82 472.77,683.80 473.28,683.77 473.79,683.75 474.30,683.72 474.81,683.70 475.32,683.67 475.83,683.64 476.34,683.62 476.85,683.59 477.36,683.57 477.87,683.54 478.38,683.52 478.89,683.49 479.40,683.47 479.91,683.44 480.42,683.42 480.93,683.39 481.43,683.37 481.94,683.34 482.45,683.32 482.96,683.29 483.47,683.27 483.98,683.25 484.49,683.22 485.00,683.20 485.50,683.18 486.01,683.16 486.51,683.13 487.01,683.11 487.52,683.09 488.02,683.07 488.52,683.05 489.02,683.03 489.53,683.01 490.03,682.99 490.53,682.97 491.04,682.95 491.54,682.93 492.04,682.91 492.55,682.89 493.05,682.87 493.55,682.85 494.05,682.83 494.56,682.82 495.06,682.80 495.56,682.78 496.07,682.76 496.57,682.75 497.07,682.73 497.58,682.71 498.08,682.69 498.58,682.68 499.08,682.66 499.59,682.64 500.09,682.62 500.59,682.61 501.10,682.59 501.60,682.57 502.10,682.56 502.61,682.54 503.11,682.52 503.61,682.51 504.12,682.49 504.62,682.47 505.12,682.46 505.62,682.44 506.13,682.42 506.63,682.41 507.13,682.39 507.64,682.37 508.14,682.36 508.64,682.34 509.15,682.32 509.65,682.31 510.15,682.29 510.65,682.27 511.16,682.25 511.66,682.24 512.16,682.22 512.67,682.20 513.17,682.18 513.67,682.17 514.18,682.15 514.68,682.13 515.18,682.11 515.68,682.09 516.19,682.08 516.69,682.06 517.19,682.04 517.70,682.02 518.20,682.00 518.70,681.98 519.21,681.96 519.71,681.94 520.21,681.92 520.72,681.90 521.22,681.88 521.72,681.86 522.22,681.84 522.73,681.82 523.23,681.79 523.73,681.77 524.24,681.75 524.74,681.73 525.24,681.70 525.75,681.68 526.25,681.66 526.75,681.63 527.25,681.61 527.76,681.58 528.26,681.56 528.76,681.53 529.27,681.51 529.77,681.48 530.27,681.46 530.78,681.43 531.28,681.40 531.78,681.37 532.28,681.35 532.79,681.32 533.29,681.29 533.79,681.26 534.30,681.23 534.80,681.20 535.40,681.17 536.00,681.13 536.60,681.08 537.20,681.00 537.78,680.73 538.35,680.19 538.92,679.56 539.50,679.00 540.00,678.54 540.50,678.10 541.00,677.80 541.55,677.62 542.10,677.47 542.65,677.35 543.20,677.25 543.75,677.17 544.30,677.10 544.81,677.04 545.33,676.98 545.84,676.92 546.36,676.87 546.87,676.81 547.39,676.77 547.90,676.72 548.41,676.67 548.93,676.63 549.44,676.59 549.96,676.55 550.47,676.51 550.99,676.47 551.50,676.44 552.01,676.41 552.53,676.37 553.04,676.34 553.56,676.31 554.07,676.28 554.59,676.25 555.10,676.22 555.61,676.19 556.13,676.16 556.64,676.13 557.16,676.09 557.67,676.06 558.19,676.03 558.70,676.00 559.21,675.97 559.71,675.94 560.22,675.90 560.73,675.87 561.23,675.84 561.74,675.81 562.25,675.78 562.75,675.75 563.26,675.72 563.77,675.69 564.27,675.66 564.78,675.63 565.29,675.60 565.79,675.57 566.30,675.54 566.81,675.51 567.31,675.48 567.82,675.45 568.33,675.43 568.83,675.40 569.34,675.37 569.85,675.34 570.35,675.31 570.86,675.29 571.37,675.26 571.87,675.24 572.38,675.21 572.89,675.18 573.39,675.16 573.90,675.13 574.41,675.11 574.91,675.08 575.42,675.06 575.93,675.04 576.43,675.01 576.94,674.99 577.45,674.97 577.95,674.94 578.46,674.92 578.97,674.90 579.47,674.88 579.98,674.86 580.49,674.84 580.99,674.82 581.50,674.80" fill="none" stroke="#8080ff" stroke-width="2.5" stroke-linejoin="round" stroke-linecap="butt"/>
<polyline points="383.60,682.50 384.11,682.60 384.61,682.69 385.12,682.78 385.62,682.88 386.12,682.97 386.63,683.06 387.13,683.16 387.64,683.25 388.14,683.34 388.65,683.43 389.16,683.52 389.66,683.61 390.17,683.70 390.67,683.79 391.18,683.88 391.68,683.96 392.19,684.05 392.69,684.13 393.19,684.22 393.70,684.30 394.21,684.38 394.72,684.47 395.22,684.55 395.73,684.64 396.24,684.72 396.75,684.81 397.26,684.89 397.76,684.98 398.27,685.06 398.78,685.15 399.29,685.23 399.80,685.32 400.31,685.40 400.81,685.48 401.32,685.57 401.83,685.65 402.34,685.73 402.85,685.81 403.35,685.89 403.86,685.97 404.37,686.05 404.88,686.12 405.39,686.20 405.89,686.28 406.40,686.35 406.91,686.42 407.42,686.49 407.93,686.56 408.44,686.63 408.94,686.69 409.45,686.76 409.96,686.82 410.47,686.88 410.98,686.94 411.48,686.99 411.99,687.05 412.50,687.10 413.01,687.15 413.51,687.20 414.02,687.25 414.52,687.29 415.03,687.34 415.53,687.38 416.04,687.43 416.54,687.47 417.05,687.51 417.55,687.55 418.06,687.59 418.56,687.63 419.07,687.67 419.58,687.71 420.08,687.75 420.59,687.79 421.09,687.82 421.60,687.86 422.10,687.90 422.61,687.93 423.11,687.97 423.62,688.00 424.12,688.04 424.63,688.07 425.14,688.10 425.64,688.14 426.15,688.17 426.65,688.20 427.16,688.24 427.66,688.27 428.17,688.30 428.67,688.34 429.18,688.37 429.68,688.40 430.19,688.43 430.69,688.47 431.20,688.50 431.71,688.53 432.22,688.57 432.72,688.60 433.23,688.63 433.74,688.67 434.25,688.70 434.76,688.73 435.26,688.76 435.77,688.80 436.28,688.83 436.79,688.86 437.30,688.89 437.81,688.93 438.31,688.96 438.82,688.99 439.33,689.02 439.84,689.05 440.35,689.08 440.85,689.11 441.36,689.14 441.87,689.17 442.38,689.20 442.89,689.23 443.39,689.26 443.90,689.29 444.41,689.32 444.92,689.34 445.43,689.37 445.94,689.40 446.44,689.43 446.95,689.45 447.46,689.48 447.97,689.50 448.48,689.53 448.98,689.55 449.49,689.58 450.00,689.60 450.51,689.62 451.01,689.65 451.52,689.67 452.02,689.69 452.53,689.71 453.03,689.74 453.54,689.76 454.04,689.78 454.55,689.80 455.05,689.82 455.56,689.85 456.06,689.87 456.57,689.89 457.08,689.91 457.58,689.93 458.09,689.95 458.59,689.97 459.10,689.99 459.60,690.01 460.11,690.03 460.61,690.05 461.12,690.07 461.62,690.08 462.13,690.10 462.64,690.12 463.14,690.14 463.65,690.15 464.15,690.17 464.66,690.19 465.16,690.20 465.67,690.22 466.17,690.23 466.68,690.25 467.18,690.26 467.69,690.27 468.19,690.29 468.70,690.30 469.21,690.31 469.72,690.32 470.23,690.34 470.74,690.35 471.25,690.36 471.76,690.37 472.27,690.38 472.77,690.39 473.28,690.40 473.79,690.41 474.30,690.42 474.81,690.43 475.32,690.44 475.83,690.45 476.34,690.45 476.85,690.46 477.36,690.47 477.87,690.48 478.38,690.49 478.89,690.50 479.40,690.50 479.91,690.51 480.42,690.52 480.93,690.53 481.43,690.54 481.94,690.55 482.45,690.56 482.96,690.56 483.47,690.57 483.98,690.58 484.49,690.59 485.00,690.60 485.50,690.61 486.01,690.62 486.51,690.63 487.01,690.63 487.52,690.64 488.02,690.65 488.52,690.66 489.02,690.67 489.53,690.67 490.03,690.68 490.53,690.69 491.04,690.69 491.54,690.70 492.04,690.70 492.55,690.71 493.05,690.72 493.55,690.72 494.05,690.73 494.56,690.73 495.06,690.74 495.56,690.74 496.07,690.75 496.57,690.75 497.07,690.76 497.58,690.76 498.08,690.77 498.58,690.77 499.08,690.78 499.59,690.78 500.09,690.79 500.59,690.79 501.10,690.80 501.60,690.80 502.10,690.81 502.61,690.81 503.11,690.81 503.61,690.82 504.12,690.82 504.62,690.83 505.12,690.83 505.62,690.84 506.13,690.84 506.63,690.85 507.13,690.85 507.64,690.86 508.14,690.86 508.64,690.87 509.15,690.87 509.65,690.88 510.15,690.88 510.65,690.89 511.16,690.90 511.66,690.90 512.16,690.91 512.67,690.91 513.17,690.92 513.67,690.93 514.18,690.93 514.68,690.94 515.18,690.95 515.68,690.96 516.19,690.96 516.69,690.97 517.19,690.98 517.70,690.99 518.20,691.00 518.70,691.01 519.21,691.02 519.71,691.03 520.21,691.04 520.72,691.05 521.22,691.06 521.72,691.07 522.22,691.08 522.73,691.09 523.23,691.10 523.73,691.12 524.24,691.13 524.74,691.14 525.24,691.16 525.75,691.17 526.25,691.19 526.75,691.20 527.25,691.22 527.76,691.23 528.26,691.25 528.76,691.26 529.27,691.28 529.77,691.30 530.27,691.32 530.78,691.33 531.28,691.35 531.78,691.37 532.28,691.39 532.79,691.41 533.29,691.43 533.79,691.46 534.30,691.48 534.80,691.50 535.36,691.59 535.92,691.76 536.48,691.97 537.04,692.13 537.60,692.20 538.23,691.86 538.87,691.14 539.50,690.50 540.00,690.14 540.50,689.78 541.00,689.46 541.50,689.22 542.00,689.10 542.51,689.05 543.01,689.01 543.52,688.96 544.02,688.92 544.53,688.89 545.04,688.85 545.54,688.82 546.05,688.79 546.55,688.76 547.06,688.73 547.57,688.71 548.07,688.69 548.58,688.67 549.08,688.65 549.59,688.63 550.10,688.61 550.60,688.60 551.11,688.58 551.62,688.57 552.12,688.56 552.63,688.54 553.13,688.53 553.64,688.52 554.15,688.51 554.65,688.50 555.16,688.49 555.66,688.48 556.17,688.46 556.68,688.45 557.18,688.44 557.69,688.43 558.19,688.41 558.70,688.40 559.21,688.39 559.71,688.37 560.22,688.36 560.73,688.34 561.23,688.33 561.74,688.31 562.25,688.30 562.75,688.28 563.26,688.27 563.77,688.26 564.27,688.24 564.78,688.23 565.29,688.22 565.79,688.20 566.30,688.19 566.81,688.18 567.31,688.16 567.82,688.15 568.33,688.14 568.83,688.13 569.34,688.11 569.85,688.10 570.35,688.09 570.86,688.08 571.37,688.07 571.87,688.06 572.38,688.05 572.89,688.04 573.39,688.03 573.90,688.02 574.41,688.01 574.91,688.00 575.42,687.99 575.93,687.98 576.43,687.97 576.94,687.96 577.45,687.95 577.95,687.95 578.46,687.94 578.97,687.93 579.47,687.92 579.98,687.92 580.49,687.91 580.99,687.91 581.50,687.90" fill="none" stroke="#0000b4" stroke-width="2.5" stroke-linejoin="round" stroke-linecap="butt"/>
<polyline points="383.60,718.10 384.11,718.17 384.61,718.25 385.12,718.32 385.62,718.39 386.12,718.47 386.63,718.54 387.13,718.61 387.64,718.68 388.14,718.74 388.65,718.80 389.16,718.86 389.66,718.92 390.17,718.97 390.67,719.02 391.18,719.07 391.68,719.10 392.19,719.14 392.69,719.16 393.19,719.19 393.70,719.20 394.21,719.21 394.72,719.22 395.22,719.23 395.73,719.24 396.24,719.25 396.75,719.26 397.26,719.27 397.76,719.28 398.27,719.29 398.78,719.29 399.29,719.30 399.80,719.31 400.31,719.32 400.81,719.32 401.32,719.33 401.83,719.34 402.34,719.34 402.85,719.35 403.35,719.35 403.86,719.36 404.37,719.36 404.88,719.37 405.39,719.37 405.89,719.38 406.40,719.38 406.91,719.38 407.42,719.39 407.93,719.39 408.44,719.39 408.94,719.39 409.45,719.39 409.96,719.40 410.47,719.40 410.98,719.40 411.48,719.40 411.99,719.40 412.50,719.40 413.00,719.40 413.50,719.40 414.00,719.40 414.50,719.40 415.00,719.40 415.50,719.40 416.00,719.40 416.50,719.40 417.00,719.40 417.50,719.39 418.00,719.39 418.50,719.39 419.00,719.39 419.50,719.39 420.00,719.39 420.50,719.39 421.00,719.38 421.50,719.38 422.00,719.38 422.50,719.38 423.00,719.38 423.50,719.37 424.00,719.37 424.50,719.37 425.00,719.37 425.50,719.36 426.00,719.36 426.50,719.36 427.00,719.36 427.50,719.35 428.00,719.35 428.50,719.35 429.00,719.34 429.50,719.34 430.00,719.34 430.50,719.34 431.00,719.33 431.50,719.33 432.00,719.33 432.50,719.32 433.00,719.32 433.50,719.32 434.00,719.31 434.50,719.31 435.00,719.31 435.50,719.30 436.00,719.30 436.50,719.30 437.00,719.29 437.50,719.29 438.00,719.28 438.50,719.28 439.00,719.28 439.50,719.27 440.00,719.27 440.50,719.27 441.00,719.26 441.50,719.26 442.00,719.26 442.50,719.25 443.00,719.25 443.50,719.25 444.00,719.24 444.50,719.24 445.00,719.23 445.50,719.23 446.00,719.23 446.50,719.22 447.00,719.22 447.50,719.22 448.00,719.21 448.50,719.21 449.00,719.21 449.50,719.20 450.00,719.20 450.50,719.20 451.00,719.19 451.50,719.19 452.00,719.19 452.50,719.18 453.00,719.18 453.50,719.18 454.00,719.17 454.50,719.17 455.00,719.17 455.50,719.16 456.00,719.16 456.50,719.16 457.00,719.15 457.50,719.15 458.00,719.15 458.50,719.14 459.00,719.14 459.50,719.14 460.00,719.13 460.50,719.13 461.00,719.13 461.50,719.12 462.00,719.12 462.50,719.12 463.00,719.11 463.50,719.11 464.00,719.11 464.50,719.10 465.00,719.10 465.50,719.09 466.00,719.09 466.50,719.09 467.00,719.08 467.50,719.08 468.00,719.08 468.50,719.07 469.00,719.07 469.50,719.06 470.00,719.06 470.50,719.05 471.00,719.05 471.50,719.05 472.00,719.04 472.50,719.04 473.00,719.03 473.50,719.03 474.00,719.02 474.50,719.02 475.00,719.01 475.50,719.01 476.00,719.00 476.50,719.00 477.00,718.99 477.50,718.99 478.00,718.98 478.50,718.98 479.00,718.97 479.50,718.97 480.00,718.96 480.50,718.96 481.00,718.95 481.50,718.94 482.00,718.94 482.50,718.93 483.00,718.93 483.50,718.92 484.00,718.91 484.50,718.91 485.00,718.90 485.50,718.89 486.00,718.89 486.50,718.88 487.00,718.87 487.50,718.87 488.00,718.86 488.50,718.86 489.00,718.85 489.50,718.84 490.00,718.84 490.50,718.83 491.00,718.83 491.50,718.82 492.00,718.82 492.50,718.81 493.00,718.80 493.50,718.80 494.00,718.79 494.50,718.79 495.00,718.78 495.50,718.78 496.00,718.77 496.50,718.76 497.00,718.76 497.50,718.75 498.00,718.74 498.50,718.74 499.00,718.73 499.50,718.72 500.00,718.72 500.50,718.71 501.00,718.70 501.50,718.69 502.00,718.69 502.50,718.68 503.00,718.67 503.50,718.66 504.00,718.65 504.50,718.64 505.00,718.63 505.50,718.62 506.00,718.62 506.50,718.61 507.00,718.59 507.50,718.58 508.00,718.57 508.50,718.56 509.00,718.55 509.50,718.54 510.00,718.52 510.50,718.51 511.00,718.50 511.50,718.48 512.00,718.47 512.50,718.46 513.00,718.44 513.50,718.43 514.00,718.41 514.50,718.39 515.00,718.38 515.50,718.36 516.00,718.34 516.50,718.32 517.00,718.30 517.50,718.28 518.00,718.26 518.50,718.24 519.00,718.22 519.50,718.20 520.00,718.18 520.50,718.16 521.00,718.13 521.50,718.11 522.00,718.08 522.50,718.06 523.00,718.03 523.50,718.01 524.00,717.98 524.50,717.95 525.00,717.92 525.50,717.89 526.00,717.86 526.50,717.83 527.00,717.80 527.50,717.77 528.00,717.74 528.50,717.70 529.00,717.67 529.50,717.63 530.00,717.60 530.50,717.56 531.00,717.52 531.50,717.48 532.00,717.45 532.50,717.41 533.00,717.36 533.50,717.32 534.00,717.28 534.50,717.24 535.00,717.19 535.50,717.15 536.00,717.10 536.53,716.94 537.07,716.57 537.60,716.00 538.40,713.00 538.93,710.83 539.47,708.66 540.00,707.00 540.50,705.95 541.00,705.11 541.50,704.50 542.03,704.05 542.57,703.70 543.10,703.40 543.60,703.13 544.10,702.87 544.60,702.62 545.10,702.37 545.60,702.14 546.10,701.92 546.60,701.71 547.10,701.53 547.60,701.36 548.10,701.21 548.60,701.09 549.10,701.00 549.62,700.92 550.14,700.84 550.66,700.77 551.18,700.71 551.70,700.65 552.21,700.59 552.73,700.53 553.25,700.48 553.77,700.43 554.29,700.39 554.81,700.34 555.33,700.30 555.85,700.26 556.37,700.23 556.89,700.19 557.40,700.16 557.92,700.13 558.44,700.09 558.96,700.06 559.48,700.03 560.00,700.00 560.50,699.97 561.00,699.94 561.50,699.91 562.00,699.88 562.50,699.85 563.00,699.82 563.50,699.79 564.00,699.76 564.50,699.74 565.00,699.71 565.50,699.68 566.00,699.65 566.50,699.63 567.00,699.60 567.50,699.57 568.00,699.55 568.50,699.52 569.00,699.50 569.50,699.47 570.00,699.45 570.50,699.42 571.00,699.40 571.50,699.38 572.00,699.36 572.50,699.34 573.00,699.32 573.50,699.30 574.00,699.28 574.50,699.26 575.00,699.24 575.50,699.23 576.00,699.21 576.50,699.20 577.00,699.18 577.50,699.17 578.00,699.16 578.50,699.15 579.00,699.14 579.50,699.13 580.00,699.12 580.50,699.11 581.00,699.10 581.50,699.10" fill="none" stroke="#000000" stroke-width="2.5" stroke-linejoin="round" stroke-linecap="butt"/>
<text transform="translate(449.94,770.50) scale(0.9848,1)" font-size="14" font-weight="normal" font-style="normal" fill="#000">Time (min)</text>
<text transform="translate(388.72,582.80) scale(1.0165,1)" font-size="15.5" font-weight="bold" font-style="italic" fill="#000">E. coli</text>
<text transform="translate(388.55,603.50) scale(1.0275,1)" font-size="15.5" font-weight="bold" font-style="normal" fill="#000">pH 4.5</text>
<text transform="translate(514.71,579.60) scale(1.0493,1)" font-size="11.5" font-weight="bold" font-style="normal" fill="#000">Colistin</text>
<line x1="537.60" y1="583.90" x2="537.60" y2="598.00" stroke="#111" stroke-width="1.5" />
<path d="M534.80,597.00 L540.60,597.00 L537.70,604.20 Z" fill="#111"/>
<line x1="537.80" y1="606.20" x2="537.80" y2="733.00" stroke="#222" stroke-width="1.5" stroke-dasharray="1.5,2.9"/>
<line x1="586.40" y1="567.60" x2="601.50" y2="567.60" stroke="#c2c200" stroke-width="2.2" />
<line x1="586.40" y1="590.30" x2="601.50" y2="590.30" stroke="#000000" stroke-width="2.2" />
<line x1="586.40" y1="613.50" x2="601.50" y2="613.50" stroke="#8080ff" stroke-width="2.2" />
<line x1="586.40" y1="637.00" x2="601.50" y2="637.00" stroke="#0000b4" stroke-width="2.2" />
<text transform="translate(609.96,572.20) scale(1.0081,1)" font-size="13.8" font-weight="normal" font-style="normal" fill="#000">Pos Ctrl</text>
<text transform="translate(609.96,595.30) scale(1.0081,1)" font-size="13.8" font-weight="normal" font-style="normal" fill="#000">Neg Ctrl</text>
<text transform="translate(610.39,618.50) scale(1.0081,1)" font-size="13.8" font-weight="normal" font-style="normal" fill="#000">CAP 10 min</text>
<text transform="translate(610.39,642.00) scale(1.0081,1)" font-size="13.8" font-weight="normal" font-style="normal" fill="#000">CAP 20 min</text>
</svg>
</body></html>
